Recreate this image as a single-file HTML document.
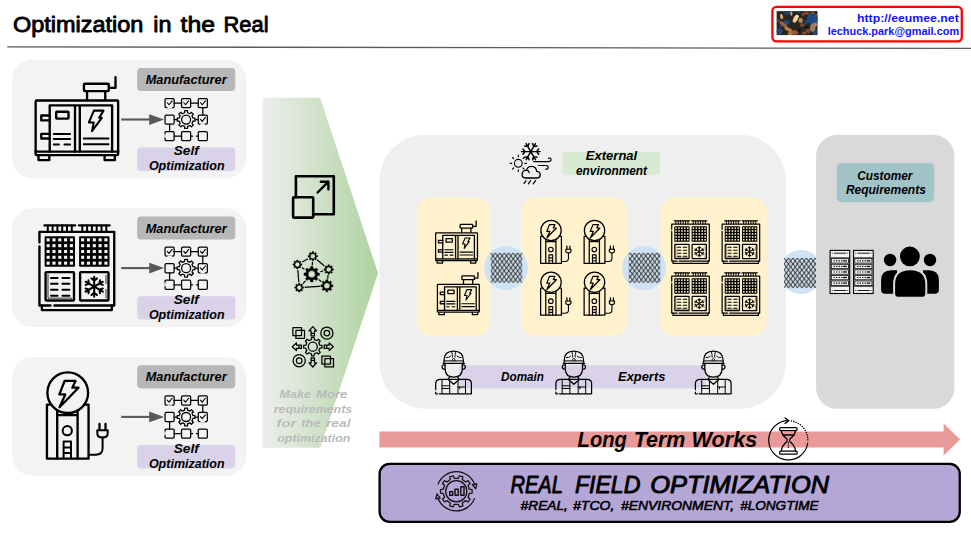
<!DOCTYPE html>
<html><head><meta charset="utf-8"><title>Optimization in the Real</title>
<style>
html,body{margin:0;padding:0;background:#fff;}
body{width:971px;height:534px;overflow:hidden;font-family:"Liberation Sans",sans-serif;}
svg{display:block;}
svg text{font-family:"Liberation Sans",sans-serif;}
</style></head><body>
<svg width="971" height="534" viewBox="0 0 971 534">
<defs>
<linearGradient id="gg" x1="0" y1="0" x2="1" y2="0"><stop offset="0" stop-color="#ececec"/><stop offset="0.25" stop-color="#dfe8da"/><stop offset="1" stop-color="#aed3a0"/></linearGradient>
<linearGradient id="gg2" gradientUnits="userSpaceOnUse" x1="263" y1="0" x2="378" y2="0"><stop offset="0" stop-color="#ececec"/><stop offset="0.25" stop-color="#dfe8da"/><stop offset="1" stop-color="#aed3a0"/></linearGradient>
<pattern id="mesh" patternUnits="userSpaceOnUse" x="490.8" y="252.9" width="4.48" height="5.96"><path d="M0,0 L2.24,2.98 L0,5.96 M4.48,0 L2.24,2.98 L4.48,5.96" fill="none" stroke="#3a3a3a" stroke-width="0.95"/><g fill="#3a3a3a"><ellipse cx="0" cy="0" rx="1.05" ry="0.8"/><ellipse cx="4.48" cy="0" rx="1.05" ry="0.8"/><ellipse cx="2.24" cy="2.98" rx="1.05" ry="0.8"/><ellipse cx="0" cy="5.96" rx="1.05" ry="0.8"/><ellipse cx="4.48" cy="5.96" rx="1.05" ry="0.8"/></g></pattern>
<pattern id="mesh3" patternUnits="userSpaceOnUse" x="784" y="258" width="4.48" height="5.96"><path d="M0,0 L2.24,2.98 L0,5.96 M4.48,0 L2.24,2.98 L4.48,5.96" fill="none" stroke="#3a3a3a" stroke-width="0.95"/><g fill="#3a3a3a"><ellipse cx="0" cy="0" rx="1.05" ry="0.8"/><ellipse cx="4.48" cy="0" rx="1.05" ry="0.8"/><ellipse cx="2.24" cy="2.98" rx="1.05" ry="0.8"/><ellipse cx="0" cy="5.96" rx="1.05" ry="0.8"/><ellipse cx="4.48" cy="5.96" rx="1.05" ry="0.8"/></g></pattern>
<clipPath id="c3"><rect x="785.7" y="200" width="30.4" height="150"/></clipPath><clipPath id="c3b"><rect x="784" y="200" width="32.1" height="150"/></clipPath>
<filter id="bl" x="-10%" y="-10%" width="120%" height="120%"><feGaussianBlur stdDeviation="0.55"/></filter>
<clipPath id="lc"><rect x="776.4" y="11.1" width="41.3" height="24.2"/></clipPath>
</defs>
<path d="M7.2,46.9 L971,48.4" stroke="#5a5a5a" stroke-width="1.35" fill="none"/>
<rect x="772.4" y="6.9" width="189.4" height="34.4" rx="4" fill="#fff" stroke="#ff0000" stroke-width="2.3"/>
<g transform="translate(0,0)">
<rect x="12" y="59.6" width="234.6" height="118.8" rx="20.5" fill="#f3f3f3"/>
<rect x="137.2" y="67.9" width="98.1" height="23.1" rx="3.8" fill="#b7b7b7"/>
<rect x="137.2" y="147.6" width="98.1" height="23.4" rx="3.8" fill="#d9d2e9"/>
</g>
<g transform="translate(0,148.6)">
<rect x="12" y="59.6" width="234.6" height="118.8" rx="20.5" fill="#f3f3f3"/>
<rect x="137.2" y="67.9" width="98.1" height="23.1" rx="3.8" fill="#b7b7b7"/>
<rect x="137.2" y="147.6" width="98.1" height="23.4" rx="3.8" fill="#d9d2e9"/>
</g>
<g transform="translate(0,297.4)">
<rect x="12" y="59.6" width="234.6" height="118.8" rx="20.5" fill="#f3f3f3"/>
<rect x="137.2" y="67.9" width="98.1" height="23.1" rx="3.8" fill="#b7b7b7"/>
<rect x="137.2" y="147.6" width="98.1" height="23.4" rx="3.8" fill="#d9d2e9"/>
</g>
<polygon points="262.6,97.8 320.2,97.8 378,273.2 320.2,447.7 262.6,447.7" fill="url(#gg)"/>
<rect x="379.5" y="134.8" width="406.4" height="274" rx="46" fill="#efefef"/>
<rect x="816.1" y="134.8" width="138.3" height="274" rx="21" fill="#d9d9d9"/>
<rect x="562.2" y="151.7" width="97.8" height="23.1" rx="3.8" fill="#d9ead3"/>
<rect x="417" y="197.6" width="73" height="138.2" rx="14" fill="#fff2cc"/>
<rect x="521" y="197.6" width="106" height="138.2" rx="14" fill="#fff2cc"/>
<rect x="660.2" y="197.6" width="106.5" height="138.2" rx="14" fill="#fff2cc"/>
<rect x="459.5" y="365.3" width="246.5" height="23.0" fill="#d9d2e9"/>
<rect x="836.8" y="163.1" width="97.4" height="39.1" rx="5" fill="#a2c4c9"/>
<polygon points="379.4,431.5 943.6,431.5 943.6,423.4 960.1,439.5 943.6,455.6 943.6,447.5 379.4,447.5" fill="#ea9999"/>
<rect x="379.6" y="463.9" width="580.15" height="57.9" rx="10" fill="#b4a7d6" stroke="#000" stroke-width="2.3"/>
<g transform="translate(34.6,77.1) scale(1)" fill="none" stroke="#000" stroke-linecap="round" stroke-linejoin="round" stroke-width="2.35" stroke-linecap="butt" stroke-linejoin="miter">
<path d="M80.9,0 V10.7 H75.2" stroke-linecap="round"/>
<rect x="49.35" y="6.65" width="24.8" height="7.35" rx="1"/>
<path d="M52.45,14 V22.3 M70.65,14 V22.3"/>
<rect x="1.05" y="23.35" width="82.5" height="54.6" rx="1"/>
<path d="M1.05,74.5 H83.55"/>
<path d="M15.1,74.5 V28.3 H77.5 V74.5 M40.4,28.3 V74.5 M45.2,28.3 V74.5"/>
<path d="M15.1,38.4 H6.7 V43.3 H15.1 M15.1,56.8 H6.7 V61.4 H15.1"/>
<rect x="21.6" y="34.6" width="12.3" height="6.9" rx="0.6"/>
<path d="M19.2,56.8 H35.5 M19.2,61.8 H35.5 M19.2,67.3 H24.3 M29.9,67.3 H35.5 M49.2,61.4 H73.9 M49.2,67.1 H73.9" stroke-width="2.05"/>
<path d="M59.3,33.5 L68.9,33.5 L64.6,40.7 L67.2,40.7 L57.4,54.1 L59.2,45.3 L54.3,45.3 Z" stroke-width="2.05" stroke-linejoin="round"/>
<path d="M3.9,79 V83 H14.7 V79 M70,79 V83 H80.3 V79"/>
</g>
<g transform="translate(38.4,224.3) scale(1)" fill="none" stroke="#000" stroke-linecap="round" stroke-linejoin="round" stroke-width="2.35" stroke-linecap="butt" stroke-linejoin="miter">
<path d="M6.2,1 H36.6" stroke-linecap="round"/>
<path d="M9.4,1.5 V6.5" stroke-width="2.0"/>
<path d="M14.2,1.5 V6.5" stroke-width="2.0"/>
<path d="M19.0,1.5 V6.5" stroke-width="2.0"/>
<path d="M23.799999999999997,1.5 V6.5" stroke-width="2.0"/>
<path d="M28.6,1.5 V6.5" stroke-width="2.0"/>
<path d="M33.4,1.5 V6.5" stroke-width="2.0"/>
<path d="M40.7,1 H71.1" stroke-linecap="round"/>
<path d="M43.900000000000006,1.5 V6.5" stroke-width="2.0"/>
<path d="M48.7,1.5 V6.5" stroke-width="2.0"/>
<path d="M53.50000000000001,1.5 V6.5" stroke-width="2.0"/>
<path d="M58.300000000000004,1.5 V6.5" stroke-width="2.0"/>
<path d="M63.10000000000001,1.5 V6.5" stroke-width="2.0"/>
<path d="M67.9,1.5 V6.5" stroke-width="2.0"/>
<path d="M1.05,18 V7.55 H75.85 V81.2 H16 M12,81.2 H1.05 V22"/>
<path d="M3.5,81.2 V85.8 H73.4 V81.2"/>
<rect x="6.2" y="12" width="30.4" height="30.5" rx="1" fill="#000" stroke="none"/>
<rect x="8.20" y="14.00" width="3.1" height="3.1" fill="#f3f3f3" stroke="none"/>
<rect x="14.02" y="14.00" width="3.1" height="3.1" fill="#f3f3f3" stroke="none"/>
<rect x="19.84" y="14.00" width="3.1" height="3.1" fill="#f3f3f3" stroke="none"/>
<rect x="25.66" y="14.00" width="3.1" height="3.1" fill="#f3f3f3" stroke="none"/>
<rect x="31.48" y="14.00" width="3.1" height="3.1" fill="#f3f3f3" stroke="none"/>
<rect x="8.20" y="19.82" width="3.1" height="3.1" fill="#f3f3f3" stroke="none"/>
<rect x="14.02" y="19.82" width="3.1" height="3.1" fill="#f3f3f3" stroke="none"/>
<rect x="19.84" y="19.82" width="3.1" height="3.1" fill="#f3f3f3" stroke="none"/>
<rect x="25.66" y="19.82" width="3.1" height="3.1" fill="#f3f3f3" stroke="none"/>
<rect x="31.48" y="19.82" width="3.1" height="3.1" fill="#f3f3f3" stroke="none"/>
<rect x="8.20" y="25.64" width="3.1" height="3.1" fill="#f3f3f3" stroke="none"/>
<rect x="14.02" y="25.64" width="3.1" height="3.1" fill="#f3f3f3" stroke="none"/>
<rect x="19.84" y="25.64" width="3.1" height="3.1" fill="#f3f3f3" stroke="none"/>
<rect x="25.66" y="25.64" width="3.1" height="3.1" fill="#f3f3f3" stroke="none"/>
<rect x="31.48" y="25.64" width="3.1" height="3.1" fill="#f3f3f3" stroke="none"/>
<rect x="8.20" y="31.46" width="3.1" height="3.1" fill="#f3f3f3" stroke="none"/>
<rect x="14.02" y="31.46" width="3.1" height="3.1" fill="#f3f3f3" stroke="none"/>
<rect x="19.84" y="31.46" width="3.1" height="3.1" fill="#f3f3f3" stroke="none"/>
<rect x="25.66" y="31.46" width="3.1" height="3.1" fill="#f3f3f3" stroke="none"/>
<rect x="31.48" y="31.46" width="3.1" height="3.1" fill="#f3f3f3" stroke="none"/>
<rect x="8.20" y="37.28" width="3.1" height="3.1" fill="#f3f3f3" stroke="none"/>
<rect x="14.02" y="37.28" width="3.1" height="3.1" fill="#f3f3f3" stroke="none"/>
<rect x="19.84" y="37.28" width="3.1" height="3.1" fill="#f3f3f3" stroke="none"/>
<rect x="25.66" y="37.28" width="3.1" height="3.1" fill="#f3f3f3" stroke="none"/>
<rect x="31.48" y="37.28" width="3.1" height="3.1" fill="#f3f3f3" stroke="none"/>
<rect x="40.7" y="12" width="30.4" height="30.5" rx="1" fill="#000" stroke="none"/>
<rect x="42.70" y="14.00" width="3.1" height="3.1" fill="#f3f3f3" stroke="none"/>
<rect x="48.52" y="14.00" width="3.1" height="3.1" fill="#f3f3f3" stroke="none"/>
<rect x="54.34" y="14.00" width="3.1" height="3.1" fill="#f3f3f3" stroke="none"/>
<rect x="60.16" y="14.00" width="3.1" height="3.1" fill="#f3f3f3" stroke="none"/>
<rect x="65.98" y="14.00" width="3.1" height="3.1" fill="#f3f3f3" stroke="none"/>
<rect x="42.70" y="19.82" width="3.1" height="3.1" fill="#f3f3f3" stroke="none"/>
<rect x="48.52" y="19.82" width="3.1" height="3.1" fill="#f3f3f3" stroke="none"/>
<rect x="54.34" y="19.82" width="3.1" height="3.1" fill="#f3f3f3" stroke="none"/>
<rect x="60.16" y="19.82" width="3.1" height="3.1" fill="#f3f3f3" stroke="none"/>
<rect x="65.98" y="19.82" width="3.1" height="3.1" fill="#f3f3f3" stroke="none"/>
<rect x="42.70" y="25.64" width="3.1" height="3.1" fill="#f3f3f3" stroke="none"/>
<rect x="48.52" y="25.64" width="3.1" height="3.1" fill="#f3f3f3" stroke="none"/>
<rect x="54.34" y="25.64" width="3.1" height="3.1" fill="#f3f3f3" stroke="none"/>
<rect x="60.16" y="25.64" width="3.1" height="3.1" fill="#f3f3f3" stroke="none"/>
<rect x="65.98" y="25.64" width="3.1" height="3.1" fill="#f3f3f3" stroke="none"/>
<rect x="42.70" y="31.46" width="3.1" height="3.1" fill="#f3f3f3" stroke="none"/>
<rect x="48.52" y="31.46" width="3.1" height="3.1" fill="#f3f3f3" stroke="none"/>
<rect x="54.34" y="31.46" width="3.1" height="3.1" fill="#f3f3f3" stroke="none"/>
<rect x="60.16" y="31.46" width="3.1" height="3.1" fill="#f3f3f3" stroke="none"/>
<rect x="65.98" y="31.46" width="3.1" height="3.1" fill="#f3f3f3" stroke="none"/>
<rect x="42.70" y="37.28" width="3.1" height="3.1" fill="#f3f3f3" stroke="none"/>
<rect x="48.52" y="37.28" width="3.1" height="3.1" fill="#f3f3f3" stroke="none"/>
<rect x="54.34" y="37.28" width="3.1" height="3.1" fill="#f3f3f3" stroke="none"/>
<rect x="60.16" y="37.28" width="3.1" height="3.1" fill="#f3f3f3" stroke="none"/>
<rect x="65.98" y="37.28" width="3.1" height="3.1" fill="#f3f3f3" stroke="none"/>
<rect x="7.2" y="47.8" width="28.4" height="28.4" rx="0.8"/>
<path d="M9.6,50.2 V73.8 H33.2" stroke-width="0.8"/>
<path d="M12.6,53.60 H19.2 M24,53.60 H31" stroke-width="2.0" stroke-linecap="round"/>
<path d="M12.6,59.55 H19.2 M24,59.55 H31" stroke-width="2.0" stroke-linecap="round"/>
<path d="M12.6,65.50 H19.2 M24,65.50 H31" stroke-width="2.0" stroke-linecap="round"/>
<path d="M12.6,71.45 H19.2 M24,71.45 H31" stroke-width="2.0" stroke-linecap="round"/>
<rect x="41.7" y="47.8" width="28.4" height="28.4" rx="0.8"/>
<path d="M67.6,51 V59.5 M67.6,65 V73.8" stroke-width="0.8"/>
<path d="M55.80,62.40 L55.80,72.40 M55.80,68.40 L58.56,70.71 M55.80,68.40 L53.04,70.71 M55.80,62.40 L47.14,67.40 M50.60,65.40 L49.98,68.95 M50.60,65.40 L47.22,64.17 M55.80,62.40 L47.14,57.40 M50.60,59.40 L47.22,60.63 M50.60,59.40 L49.98,55.85 M55.80,62.40 L55.80,52.40 M55.80,56.40 L53.04,54.09 M55.80,56.40 L58.56,54.09 M55.80,62.40 L64.46,57.40 M61.00,59.40 L61.62,55.85 M61.00,59.40 L64.38,60.63 M55.80,62.40 L64.46,67.40 M61.00,65.40 L64.38,64.17 M61.00,65.40 L61.62,68.95 " stroke-width="2.0" stroke-linecap="round"/>
</g>
<g transform="translate(45.9,372.3) scale(1)" fill="none" stroke="#000" stroke-linecap="round" stroke-linejoin="round" stroke-width="2.35" stroke-linecap="butt" stroke-linejoin="miter">
<path d="M4.2,32.3 H1.05 V86.3 H42.65 V32.3 H39.5"/>
<path d="M11.3,38 V86.3 M31.7,38 V86.3 M11.3,42.8 H31.7"/>
<circle cx="21.85" cy="20.4" r="20.35"/>
<circle cx="21.4" cy="58.4" r="4.6" stroke-width="2.0"/>
<path d="M17.7,86.3 V69.2 H25.1 V86.3 M17.7,75.2 H25.1 M17.7,80.8 H25.1" stroke-width="2.0"/>
<path d="M18.7,8.7 L29.6,8.7 L26.4,15.4 L32.6,15.4 L13.6,35 L19.4,22.2 L13.4,22.2 Z" stroke-width="2.25" stroke-linejoin="round"/>
<path d="M53.6,51.5 V57.5 M59.6,51.5 V57.5" stroke-width="2.3" stroke-linecap="round"/>
<path d="M51.4,58 H61.8 V61 Q61.8,65.3 56.6,65.3 Q51.4,65.3 51.4,61 Z" stroke-width="2.0" stroke-linejoin="round"/>
<path d="M56.7,65.3 V76 Q56.7,82.4 50,82.4 H43.5" stroke-width="2.0"/>
</g>
<g transform="translate(0,0) scale(1)" fill="none" stroke="#000" stroke-linecap="round" stroke-linejoin="round" stroke-width="1.25" stroke="#111" stroke-linecap="butt">
<path d="M174.15,103.05 H181.54999999999998 M190.65,103.05 H198.25 M202.8,107.6 V115.05 M169.6,124.14999999999999 V131.6 M174.15,136.15 H181.54999999999998 M190.65,136.15 H192.65 M196.45,136.15 H198.25 M174.15,119.6 H176.75 M195.65,119.6 H198.25"/>
<rect x="165.05" y="98.50" width="9.1" height="9.1" rx="1.1"/>
<path d="M167.30,102.75 L169.00,104.75 L172.20,100.85" stroke-width="1.1" stroke-linejoin="miter"/>
<rect x="181.55" y="98.50" width="9.1" height="9.1" rx="1.1"/>
<path d="M183.80,102.75 L185.50,104.75 L188.70,100.85" stroke-width="1.1" stroke-linejoin="miter"/>
<rect x="198.25" y="98.50" width="9.1" height="9.1" rx="1.1"/>
<path d="M200.50,102.75 L202.20,104.75 L205.40,100.85" stroke-width="1.1" stroke-linejoin="miter"/>
<rect x="165.05" y="115.05" width="9.1" height="9.1" rx="1.1"/>
<rect x="198.25" y="115.05" width="9.1" height="9.1" rx="1.1"/>
<path d="M200.50,119.30 L202.20,121.30 L205.40,117.40" stroke-width="1.1" stroke-linejoin="miter"/>
<rect x="165.05" y="131.60" width="9.1" height="9.1" rx="1.1"/>
<rect x="181.55" y="131.60" width="9.1" height="9.1" rx="1.1"/>
<rect x="198.25" y="131.60" width="9.1" height="9.1" rx="1.1"/>
<path d="M168.0,107.6 h3.4 M165.04999999999998,134.75 v2.4 M201.0,124.14999999999999 h3.2" stroke="#f3f3f3" stroke-width="1.6"/>
<path d="M192.94,118.13 L194.99,118.19 L194.99,121.01 L192.94,121.07 L191.98,123.40 L193.38,124.89 L191.39,126.88 L189.90,125.48 L187.57,126.44 L187.51,128.49 L184.69,128.49 L184.63,126.44 L182.30,125.48 L180.81,126.88 L178.82,124.89 L180.22,123.40 L179.26,121.07 L177.21,121.01 L177.21,118.19 L179.26,118.13 L180.22,115.80 L178.82,114.31 L180.81,112.32 L182.30,113.72 L184.63,112.76 L184.69,110.71 L187.51,110.71 L187.57,112.76 L189.90,113.72 L191.39,112.32 L193.38,114.31 L191.98,115.80 Z" stroke-width="1.25" stroke-linejoin="round"/>
<circle cx="186.1" cy="119.6" r="4.5" stroke-width="1.3"/>
</g>
<g transform="translate(0,0)"><rect x="121.2" y="118.45" width="29.5" height="2.1" fill="#595959"/><polygon points="149.2,114.2 164.1,119.5 149.2,124.9" fill="#595959"/></g>
<g transform="translate(0,148.6) scale(1)" fill="none" stroke="#000" stroke-linecap="round" stroke-linejoin="round" stroke-width="1.25" stroke="#111" stroke-linecap="butt">
<path d="M174.15,103.05 H181.54999999999998 M190.65,103.05 H198.25 M202.8,107.6 V115.05 M169.6,124.14999999999999 V131.6 M174.15,136.15 H181.54999999999998 M190.65,136.15 H192.65 M196.45,136.15 H198.25 M174.15,119.6 H176.75 M195.65,119.6 H198.25"/>
<rect x="165.05" y="98.50" width="9.1" height="9.1" rx="1.1"/>
<path d="M167.30,102.75 L169.00,104.75 L172.20,100.85" stroke-width="1.1" stroke-linejoin="miter"/>
<rect x="181.55" y="98.50" width="9.1" height="9.1" rx="1.1"/>
<path d="M183.80,102.75 L185.50,104.75 L188.70,100.85" stroke-width="1.1" stroke-linejoin="miter"/>
<rect x="198.25" y="98.50" width="9.1" height="9.1" rx="1.1"/>
<path d="M200.50,102.75 L202.20,104.75 L205.40,100.85" stroke-width="1.1" stroke-linejoin="miter"/>
<rect x="165.05" y="115.05" width="9.1" height="9.1" rx="1.1"/>
<rect x="198.25" y="115.05" width="9.1" height="9.1" rx="1.1"/>
<path d="M200.50,119.30 L202.20,121.30 L205.40,117.40" stroke-width="1.1" stroke-linejoin="miter"/>
<rect x="165.05" y="131.60" width="9.1" height="9.1" rx="1.1"/>
<rect x="181.55" y="131.60" width="9.1" height="9.1" rx="1.1"/>
<rect x="198.25" y="131.60" width="9.1" height="9.1" rx="1.1"/>
<path d="M168.0,107.6 h3.4 M165.04999999999998,134.75 v2.4 M201.0,124.14999999999999 h3.2" stroke="#f3f3f3" stroke-width="1.6"/>
<path d="M192.94,118.13 L194.99,118.19 L194.99,121.01 L192.94,121.07 L191.98,123.40 L193.38,124.89 L191.39,126.88 L189.90,125.48 L187.57,126.44 L187.51,128.49 L184.69,128.49 L184.63,126.44 L182.30,125.48 L180.81,126.88 L178.82,124.89 L180.22,123.40 L179.26,121.07 L177.21,121.01 L177.21,118.19 L179.26,118.13 L180.22,115.80 L178.82,114.31 L180.81,112.32 L182.30,113.72 L184.63,112.76 L184.69,110.71 L187.51,110.71 L187.57,112.76 L189.90,113.72 L191.39,112.32 L193.38,114.31 L191.98,115.80 Z" stroke-width="1.25" stroke-linejoin="round"/>
<circle cx="186.1" cy="119.6" r="4.5" stroke-width="1.3"/>
</g>
<g transform="translate(0,148.6)"><rect x="121.2" y="118.45" width="29.5" height="2.1" fill="#595959"/><polygon points="149.2,114.2 164.1,119.5 149.2,124.9" fill="#595959"/></g>
<g transform="translate(0,297.4) scale(1)" fill="none" stroke="#000" stroke-linecap="round" stroke-linejoin="round" stroke-width="1.25" stroke="#111" stroke-linecap="butt">
<path d="M174.15,103.05 H181.54999999999998 M190.65,103.05 H198.25 M202.8,107.6 V115.05 M169.6,124.14999999999999 V131.6 M174.15,136.15 H181.54999999999998 M190.65,136.15 H192.65 M196.45,136.15 H198.25 M174.15,119.6 H176.75 M195.65,119.6 H198.25"/>
<rect x="165.05" y="98.50" width="9.1" height="9.1" rx="1.1"/>
<path d="M167.30,102.75 L169.00,104.75 L172.20,100.85" stroke-width="1.1" stroke-linejoin="miter"/>
<rect x="181.55" y="98.50" width="9.1" height="9.1" rx="1.1"/>
<path d="M183.80,102.75 L185.50,104.75 L188.70,100.85" stroke-width="1.1" stroke-linejoin="miter"/>
<rect x="198.25" y="98.50" width="9.1" height="9.1" rx="1.1"/>
<path d="M200.50,102.75 L202.20,104.75 L205.40,100.85" stroke-width="1.1" stroke-linejoin="miter"/>
<rect x="165.05" y="115.05" width="9.1" height="9.1" rx="1.1"/>
<rect x="198.25" y="115.05" width="9.1" height="9.1" rx="1.1"/>
<path d="M200.50,119.30 L202.20,121.30 L205.40,117.40" stroke-width="1.1" stroke-linejoin="miter"/>
<rect x="165.05" y="131.60" width="9.1" height="9.1" rx="1.1"/>
<rect x="181.55" y="131.60" width="9.1" height="9.1" rx="1.1"/>
<rect x="198.25" y="131.60" width="9.1" height="9.1" rx="1.1"/>
<path d="M168.0,107.6 h3.4 M165.04999999999998,134.75 v2.4 M201.0,124.14999999999999 h3.2" stroke="#f3f3f3" stroke-width="1.6"/>
<path d="M192.94,118.13 L194.99,118.19 L194.99,121.01 L192.94,121.07 L191.98,123.40 L193.38,124.89 L191.39,126.88 L189.90,125.48 L187.57,126.44 L187.51,128.49 L184.69,128.49 L184.63,126.44 L182.30,125.48 L180.81,126.88 L178.82,124.89 L180.22,123.40 L179.26,121.07 L177.21,121.01 L177.21,118.19 L179.26,118.13 L180.22,115.80 L178.82,114.31 L180.81,112.32 L182.30,113.72 L184.63,112.76 L184.69,110.71 L187.51,110.71 L187.57,112.76 L189.90,113.72 L191.39,112.32 L193.38,114.31 L191.98,115.80 Z" stroke-width="1.25" stroke-linejoin="round"/>
<circle cx="186.1" cy="119.6" r="4.5" stroke-width="1.3"/>
</g>
<g transform="translate(0,297.4)"><rect x="121.2" y="118.45" width="29.5" height="2.1" fill="#595959"/><polygon points="149.2,114.2 164.1,119.5 149.2,124.9" fill="#595959"/></g>
<g transform="translate(0.4,0.2)" fill="none" stroke="#000" stroke-width="2.6" stroke-linejoin="round" stroke-linecap="round"><path d="M295.5,197 V176 H333.4 V214 H312.8"/><rect x="292.7" y="197.1" width="20.1" height="20.3" rx="0.8"/><path d="M317.2,192.3 L327.8,181.7 M320.4,181.5 H328 V189.1" stroke-width="2.4"/></g>
<path d="M312.8,256.2 L297.4,264.5 M312.8,256.2 L328.7,269.5 M297.4,264.5 L299.2,287.6 M299.2,287.6 L326.9,285.8 M328.7,269.5 L326.9,285.8 M311.7,274.2 L312.8,256.2 M311.7,274.2 L297.4,264.5 M311.7,274.2 L328.7,269.5 M311.7,274.2 L299.2,287.6 M311.7,274.2 L326.9,285.8 " stroke="#000" stroke-width="1.2" fill="none"/>
<circle cx="312.8" cy="256.2" r="5.7" fill="url(#gg2)"/>
<path d="M316.29,255.43 L317.45,255.49 L317.45,256.91 L316.29,256.97 L315.81,258.13 L316.59,258.98 L315.58,259.99 L314.73,259.21 L313.57,259.69 L313.51,260.85 L312.09,260.85 L312.03,259.69 L310.87,259.21 L310.02,259.99 L309.01,258.98 L309.79,258.13 L309.31,256.97 L308.15,256.91 L308.15,255.49 L309.31,255.43 L309.79,254.27 L309.01,253.42 L310.02,252.41 L310.87,253.19 L312.03,252.71 L312.09,251.55 L313.51,251.55 L313.57,252.71 L314.73,253.19 L315.58,252.41 L316.59,253.42 L315.81,254.27 Z M315.30,256.20 A2.5,2.5 0 1,0 310.30,256.20 A2.5,2.5 0 1,0 315.30,256.20 Z" fill="#000" fill-rule="evenodd" stroke="#000" stroke-width="0.5" stroke-linejoin="round"/>
<circle cx="297.4" cy="264.5" r="5.5" fill="url(#gg2)"/>
<path d="M300.74,263.77 L301.85,263.82 L301.85,265.18 L300.74,265.23 L300.28,266.34 L301.02,267.17 L300.07,268.12 L299.24,267.38 L298.13,267.84 L298.08,268.95 L296.72,268.95 L296.67,267.84 L295.56,267.38 L294.73,268.12 L293.78,267.17 L294.52,266.34 L294.06,265.23 L292.95,265.18 L292.95,263.82 L294.06,263.77 L294.52,262.66 L293.78,261.83 L294.73,260.88 L295.56,261.62 L296.67,261.16 L296.72,260.05 L298.08,260.05 L298.13,261.16 L299.24,261.62 L300.07,260.88 L301.02,261.83 L300.28,262.66 Z M299.80,264.50 A2.4,2.4 0 1,0 295.00,264.50 A2.4,2.4 0 1,0 299.80,264.50 Z" fill="#000" fill-rule="evenodd" stroke="#000" stroke-width="0.5" stroke-linejoin="round"/>
<circle cx="328.7" cy="269.5" r="5.7" fill="url(#gg2)"/>
<path d="M332.19,268.73 L333.35,268.79 L333.35,270.21 L332.19,270.27 L331.71,271.43 L332.49,272.28 L331.48,273.29 L330.63,272.51 L329.47,272.99 L329.41,274.15 L327.99,274.15 L327.93,272.99 L326.77,272.51 L325.92,273.29 L324.91,272.28 L325.69,271.43 L325.21,270.27 L324.05,270.21 L324.05,268.79 L325.21,268.73 L325.69,267.57 L324.91,266.72 L325.92,265.71 L326.77,266.49 L327.93,266.01 L327.99,264.85 L329.41,264.85 L329.47,266.01 L330.63,266.49 L331.48,265.71 L332.49,266.72 L331.71,267.57 Z M331.20,269.50 A2.5,2.5 0 1,0 326.20,269.50 A2.5,2.5 0 1,0 331.20,269.50 Z" fill="#000" fill-rule="evenodd" stroke="#000" stroke-width="0.5" stroke-linejoin="round"/>
<circle cx="299.2" cy="287.6" r="5.5" fill="url(#gg2)"/>
<path d="M302.54,286.87 L303.65,286.92 L303.65,288.28 L302.54,288.33 L302.08,289.44 L302.82,290.27 L301.87,291.22 L301.04,290.48 L299.93,290.94 L299.88,292.05 L298.52,292.05 L298.47,290.94 L297.36,290.48 L296.53,291.22 L295.58,290.27 L296.32,289.44 L295.86,288.33 L294.75,288.28 L294.75,286.92 L295.86,286.87 L296.32,285.76 L295.58,284.93 L296.53,283.98 L297.36,284.72 L298.47,284.26 L298.52,283.15 L299.88,283.15 L299.93,284.26 L301.04,284.72 L301.87,283.98 L302.82,284.93 L302.08,285.76 Z M301.60,287.60 A2.4,2.4 0 1,0 296.80,287.60 A2.4,2.4 0 1,0 301.60,287.60 Z" fill="#000" fill-rule="evenodd" stroke="#000" stroke-width="0.5" stroke-linejoin="round"/>
<circle cx="326.9" cy="285.8" r="7.1" fill="url(#gg2)"/>
<path d="M331.43,284.81 L332.93,284.88 L332.93,286.72 L331.43,286.79 L330.80,288.30 L331.81,289.41 L330.51,290.71 L329.40,289.70 L327.89,290.33 L327.82,291.83 L325.98,291.83 L325.91,290.33 L324.40,289.70 L323.29,290.71 L321.99,289.41 L323.00,288.30 L322.37,286.79 L320.87,286.72 L320.87,284.88 L322.37,284.81 L323.00,283.30 L321.99,282.19 L323.29,280.89 L324.40,281.90 L325.91,281.27 L325.98,279.77 L327.82,279.77 L327.89,281.27 L329.40,281.90 L330.51,280.89 L331.81,282.19 L330.80,283.30 Z M329.90,285.80 A3.0,3.0 0 1,0 323.90,285.80 A3.0,3.0 0 1,0 329.90,285.80 Z" fill="#000" fill-rule="evenodd" stroke="#000" stroke-width="0.5" stroke-linejoin="round"/>
<circle cx="311.7" cy="274.2" r="9.0" fill="url(#gg2)"/>
<path d="M317.56,272.91 L319.41,273.03 L319.41,275.37 L317.56,275.49 L316.75,277.43 L317.98,278.82 L316.32,280.48 L314.93,279.25 L312.99,280.06 L312.87,281.91 L310.53,281.91 L310.41,280.06 L308.47,279.25 L307.08,280.48 L305.42,278.82 L306.65,277.43 L305.84,275.49 L303.99,275.37 L303.99,273.03 L305.84,272.91 L306.65,270.97 L305.42,269.58 L307.08,267.92 L308.47,269.15 L310.41,268.34 L310.53,266.49 L312.87,266.49 L312.99,268.34 L314.93,269.15 L316.32,267.92 L317.98,269.58 L316.75,270.97 Z M315.30,274.20 A3.6,3.6 0 1,0 308.10,274.20 A3.6,3.6 0 1,0 315.30,274.20 Z" fill="#000" fill-rule="evenodd" stroke="#000" stroke-width="0.5" stroke-linejoin="round"/>
<g fill="none" stroke="#000" stroke-width="1.25" stroke-linejoin="round">
<path d="M319.85,345.24 L322.02,345.45 L322.02,347.95 L319.85,348.16 L318.82,350.65 L320.20,352.33 L318.43,354.10 L316.75,352.72 L314.26,353.75 L314.05,355.92 L311.55,355.92 L311.34,353.75 L308.85,352.72 L307.17,354.10 L305.40,352.33 L306.78,350.65 L305.75,348.16 L303.58,347.95 L303.58,345.45 L305.75,345.24 L306.78,342.75 L305.40,341.07 L307.17,339.30 L308.85,340.68 L311.34,339.65 L311.55,337.48 L314.05,337.48 L314.26,339.65 L316.75,340.68 L318.43,339.30 L320.20,341.07 L318.82,342.75 Z"/>
<circle cx="312.8" cy="346.7" r="4.5"/>
<rect x="292.9" y="327.6" width="8.6" height="8.0"/><rect x="295.9" y="330.4" width="8.6" height="8.0"/>
<rect x="321.9" y="356.0" width="8.6" height="8.0"/><rect x="324.8" y="358.7" width="8.7" height="8.2"/>
<circle cx="326.9" cy="333.1" r="6.1"/><circle cx="326.9" cy="333.1" r="2.8"/>
<circle cx="299.2" cy="360.7" r="6.1"/><circle cx="299.2" cy="360.7" r="2.8"/>
<path transform="translate(312.8,331.4) rotate(0)" d="M0,-4.7 L3.8,-0.6 H1.7 V4.4 H-1.7 V-0.6 H-3.8 Z M-1.7,1.9 H1.7"/>
<path transform="translate(312.8,362.3) rotate(180)" d="M0,-4.7 L3.8,-0.6 H1.7 V4.4 H-1.7 V-0.6 H-3.8 Z M-1.7,1.9 H1.7"/>
<path transform="translate(297.0,346.7) rotate(270)" d="M0,-4.7 L3.8,-0.6 H1.7 V4.4 H-1.7 V-0.6 H-3.8 Z M-1.7,1.9 H1.7"/>
<path transform="translate(328.6,346.7) rotate(90)" d="M0,-4.7 L3.8,-0.6 H1.7 V4.4 H-1.7 V-0.6 H-3.8 Z M-1.7,1.9 H1.7"/>
</g>
<g transform="translate(435.1,221.0) scale(0.507)" fill="none" stroke="#000" stroke-linecap="round" stroke-linejoin="round" stroke-width="2.55" stroke-linecap="butt" stroke-linejoin="miter">
<path d="M80.9,0 V10.7 H75.2" stroke-linecap="round"/>
<rect x="49.35" y="6.65" width="24.8" height="7.35" rx="1"/>
<path d="M52.45,14 V22.3 M70.65,14 V22.3"/>
<rect x="1.05" y="23.35" width="82.5" height="54.6" rx="1"/>
<path d="M1.05,74.5 H83.55"/>
<path d="M15.1,74.5 V28.3 H77.5 V74.5 M40.4,28.3 V74.5 M45.2,28.3 V74.5"/>
<path d="M15.1,38.4 H6.7 V43.3 H15.1 M15.1,56.8 H6.7 V61.4 H15.1"/>
<rect x="21.6" y="34.6" width="12.3" height="6.9" rx="0.6"/>
<path d="M19.2,56.8 H35.5 M19.2,61.8 H35.5 M19.2,67.3 H24.3 M29.9,67.3 H35.5 M49.2,61.4 H73.9 M49.2,67.1 H73.9" stroke-width="2.2"/>
<path d="M59.3,33.5 L68.9,33.5 L64.6,40.7 L67.2,40.7 L57.4,54.1 L59.2,45.3 L54.3,45.3 Z" stroke-width="2.2" stroke-linejoin="round"/>
<path d="M3.9,79 V83 H14.7 V79 M70,79 V83 H80.3 V79"/>
</g>
<g transform="translate(436.9,272.6) scale(0.507)" fill="none" stroke="#000" stroke-linecap="round" stroke-linejoin="round" stroke-width="2.55" stroke-linecap="butt" stroke-linejoin="miter">
<path d="M80.9,0 V10.7 H75.2" stroke-linecap="round"/>
<rect x="49.35" y="6.65" width="24.8" height="7.35" rx="1"/>
<path d="M52.45,14 V22.3 M70.65,14 V22.3"/>
<rect x="1.05" y="23.35" width="82.5" height="54.6" rx="1"/>
<path d="M1.05,74.5 H83.55"/>
<path d="M15.1,74.5 V28.3 H77.5 V74.5 M40.4,28.3 V74.5 M45.2,28.3 V74.5"/>
<path d="M15.1,38.4 H6.7 V43.3 H15.1 M15.1,56.8 H6.7 V61.4 H15.1"/>
<rect x="21.6" y="34.6" width="12.3" height="6.9" rx="0.6"/>
<path d="M19.2,56.8 H35.5 M19.2,61.8 H35.5 M19.2,67.3 H24.3 M29.9,67.3 H35.5 M49.2,61.4 H73.9 M49.2,67.1 H73.9" stroke-width="2.2"/>
<path d="M59.3,33.5 L68.9,33.5 L64.6,40.7 L67.2,40.7 L57.4,54.1 L59.2,45.3 L54.3,45.3 Z" stroke-width="2.2" stroke-linejoin="round"/>
<path d="M3.9,79 V83 H14.7 V79 M70,79 V83 H80.3 V79"/>
</g>
<g transform="translate(540.1,220.3) scale(0.5)" fill="none" stroke="#000" stroke-linecap="round" stroke-linejoin="round" stroke-width="2.5" stroke-linecap="butt" stroke-linejoin="miter">
<path d="M4.2,32.3 H1.05 V86.3 H42.65 V32.3 H39.5"/>
<path d="M11.3,38 V86.3 M31.7,38 V86.3 M11.3,42.8 H31.7"/>
<circle cx="21.85" cy="20.4" r="20.35"/>
<circle cx="21.4" cy="58.4" r="4.6" stroke-width="2.2"/>
<path d="M17.7,86.3 V69.2 H25.1 V86.3 M17.7,75.2 H25.1 M17.7,80.8 H25.1" stroke-width="2.2"/>
<path d="M18.7,8.7 L29.6,8.7 L26.4,15.4 L32.6,15.4 L13.6,35 L19.4,22.2 L13.4,22.2 Z" stroke-width="2.45" stroke-linejoin="round"/>
<path d="M53.6,51.5 V57.5 M59.6,51.5 V57.5" stroke-width="2.5" stroke-linecap="round"/>
<path d="M51.4,58 H61.8 V61 Q61.8,65.3 56.6,65.3 Q51.4,65.3 51.4,61 Z" stroke-width="2.2" stroke-linejoin="round"/>
<path d="M56.7,65.3 V76 Q56.7,82.4 50,82.4 H43.5" stroke-width="2.2"/>
</g>
<g transform="translate(583.6,220.3) scale(0.5)" fill="none" stroke="#000" stroke-linecap="round" stroke-linejoin="round" stroke-width="2.5" stroke-linecap="butt" stroke-linejoin="miter">
<path d="M4.2,32.3 H1.05 V86.3 H42.65 V32.3 H39.5"/>
<path d="M11.3,38 V86.3 M31.7,38 V86.3 M11.3,42.8 H31.7"/>
<circle cx="21.85" cy="20.4" r="20.35"/>
<circle cx="21.4" cy="58.4" r="4.6" stroke-width="2.2"/>
<path d="M17.7,86.3 V69.2 H25.1 V86.3 M17.7,75.2 H25.1 M17.7,80.8 H25.1" stroke-width="2.2"/>
<path d="M18.7,8.7 L29.6,8.7 L26.4,15.4 L32.6,15.4 L13.6,35 L19.4,22.2 L13.4,22.2 Z" stroke-width="2.45" stroke-linejoin="round"/>
<path d="M53.6,51.5 V57.5 M59.6,51.5 V57.5" stroke-width="2.5" stroke-linecap="round"/>
<path d="M51.4,58 H61.8 V61 Q61.8,65.3 56.6,65.3 Q51.4,65.3 51.4,61 Z" stroke-width="2.2" stroke-linejoin="round"/>
<path d="M56.7,65.3 V76 Q56.7,82.4 50,82.4 H43.5" stroke-width="2.2"/>
</g>
<g transform="translate(540.1,272.0) scale(0.5)" fill="none" stroke="#000" stroke-linecap="round" stroke-linejoin="round" stroke-width="2.5" stroke-linecap="butt" stroke-linejoin="miter">
<path d="M4.2,32.3 H1.05 V86.3 H42.65 V32.3 H39.5"/>
<path d="M11.3,38 V86.3 M31.7,38 V86.3 M11.3,42.8 H31.7"/>
<circle cx="21.85" cy="20.4" r="20.35"/>
<circle cx="21.4" cy="58.4" r="4.6" stroke-width="2.2"/>
<path d="M17.7,86.3 V69.2 H25.1 V86.3 M17.7,75.2 H25.1 M17.7,80.8 H25.1" stroke-width="2.2"/>
<path d="M18.7,8.7 L29.6,8.7 L26.4,15.4 L32.6,15.4 L13.6,35 L19.4,22.2 L13.4,22.2 Z" stroke-width="2.45" stroke-linejoin="round"/>
<path d="M53.6,51.5 V57.5 M59.6,51.5 V57.5" stroke-width="2.5" stroke-linecap="round"/>
<path d="M51.4,58 H61.8 V61 Q61.8,65.3 56.6,65.3 Q51.4,65.3 51.4,61 Z" stroke-width="2.2" stroke-linejoin="round"/>
<path d="M56.7,65.3 V76 Q56.7,82.4 50,82.4 H43.5" stroke-width="2.2"/>
</g>
<g transform="translate(583.6,272.0) scale(0.5)" fill="none" stroke="#000" stroke-linecap="round" stroke-linejoin="round" stroke-width="2.5" stroke-linecap="butt" stroke-linejoin="miter">
<path d="M4.2,32.3 H1.05 V86.3 H42.65 V32.3 H39.5"/>
<path d="M11.3,38 V86.3 M31.7,38 V86.3 M11.3,42.8 H31.7"/>
<circle cx="21.85" cy="20.4" r="20.35"/>
<circle cx="21.4" cy="58.4" r="4.6" stroke-width="2.2"/>
<path d="M17.7,86.3 V69.2 H25.1 V86.3 M17.7,75.2 H25.1 M17.7,80.8 H25.1" stroke-width="2.2"/>
<path d="M18.7,8.7 L29.6,8.7 L26.4,15.4 L32.6,15.4 L13.6,35 L19.4,22.2 L13.4,22.2 Z" stroke-width="2.45" stroke-linejoin="round"/>
<path d="M53.6,51.5 V57.5 M59.6,51.5 V57.5" stroke-width="2.5" stroke-linecap="round"/>
<path d="M51.4,58 H61.8 V61 Q61.8,65.3 56.6,65.3 Q51.4,65.3 51.4,61 Z" stroke-width="2.2" stroke-linejoin="round"/>
<path d="M56.7,65.3 V76 Q56.7,82.4 50,82.4 H43.5" stroke-width="2.2"/>
</g>
<g transform="translate(671.2,220.3) scale(0.502)" fill="none" stroke="#000" stroke-linecap="round" stroke-linejoin="round" stroke-width="2.4" stroke-linecap="butt" stroke-linejoin="miter">
<path d="M6.2,1 H36.6" stroke-linecap="round"/>
<path d="M9.4,1.5 V6.5" stroke-width="2.0"/>
<path d="M14.2,1.5 V6.5" stroke-width="2.0"/>
<path d="M19.0,1.5 V6.5" stroke-width="2.0"/>
<path d="M23.799999999999997,1.5 V6.5" stroke-width="2.0"/>
<path d="M28.6,1.5 V6.5" stroke-width="2.0"/>
<path d="M33.4,1.5 V6.5" stroke-width="2.0"/>
<path d="M40.7,1 H71.1" stroke-linecap="round"/>
<path d="M43.900000000000006,1.5 V6.5" stroke-width="2.0"/>
<path d="M48.7,1.5 V6.5" stroke-width="2.0"/>
<path d="M53.50000000000001,1.5 V6.5" stroke-width="2.0"/>
<path d="M58.300000000000004,1.5 V6.5" stroke-width="2.0"/>
<path d="M63.10000000000001,1.5 V6.5" stroke-width="2.0"/>
<path d="M67.9,1.5 V6.5" stroke-width="2.0"/>
<path d="M1.05,18 V7.55 H75.85 V81.2 H16 M12,81.2 H1.05 V22"/>
<path d="M3.5,81.2 V85.8 H73.4 V81.2"/>
<rect x="6.2" y="12" width="30.4" height="30.5" rx="1" fill="#000" stroke="none"/>
<rect x="8.20" y="14.00" width="3.1" height="3.1" fill="#fff2cc" stroke="none"/>
<rect x="14.02" y="14.00" width="3.1" height="3.1" fill="#fff2cc" stroke="none"/>
<rect x="19.84" y="14.00" width="3.1" height="3.1" fill="#fff2cc" stroke="none"/>
<rect x="25.66" y="14.00" width="3.1" height="3.1" fill="#fff2cc" stroke="none"/>
<rect x="31.48" y="14.00" width="3.1" height="3.1" fill="#fff2cc" stroke="none"/>
<rect x="8.20" y="19.82" width="3.1" height="3.1" fill="#fff2cc" stroke="none"/>
<rect x="14.02" y="19.82" width="3.1" height="3.1" fill="#fff2cc" stroke="none"/>
<rect x="19.84" y="19.82" width="3.1" height="3.1" fill="#fff2cc" stroke="none"/>
<rect x="25.66" y="19.82" width="3.1" height="3.1" fill="#fff2cc" stroke="none"/>
<rect x="31.48" y="19.82" width="3.1" height="3.1" fill="#fff2cc" stroke="none"/>
<rect x="8.20" y="25.64" width="3.1" height="3.1" fill="#fff2cc" stroke="none"/>
<rect x="14.02" y="25.64" width="3.1" height="3.1" fill="#fff2cc" stroke="none"/>
<rect x="19.84" y="25.64" width="3.1" height="3.1" fill="#fff2cc" stroke="none"/>
<rect x="25.66" y="25.64" width="3.1" height="3.1" fill="#fff2cc" stroke="none"/>
<rect x="31.48" y="25.64" width="3.1" height="3.1" fill="#fff2cc" stroke="none"/>
<rect x="8.20" y="31.46" width="3.1" height="3.1" fill="#fff2cc" stroke="none"/>
<rect x="14.02" y="31.46" width="3.1" height="3.1" fill="#fff2cc" stroke="none"/>
<rect x="19.84" y="31.46" width="3.1" height="3.1" fill="#fff2cc" stroke="none"/>
<rect x="25.66" y="31.46" width="3.1" height="3.1" fill="#fff2cc" stroke="none"/>
<rect x="31.48" y="31.46" width="3.1" height="3.1" fill="#fff2cc" stroke="none"/>
<rect x="8.20" y="37.28" width="3.1" height="3.1" fill="#fff2cc" stroke="none"/>
<rect x="14.02" y="37.28" width="3.1" height="3.1" fill="#fff2cc" stroke="none"/>
<rect x="19.84" y="37.28" width="3.1" height="3.1" fill="#fff2cc" stroke="none"/>
<rect x="25.66" y="37.28" width="3.1" height="3.1" fill="#fff2cc" stroke="none"/>
<rect x="31.48" y="37.28" width="3.1" height="3.1" fill="#fff2cc" stroke="none"/>
<rect x="40.7" y="12" width="30.4" height="30.5" rx="1" fill="#000" stroke="none"/>
<rect x="42.70" y="14.00" width="3.1" height="3.1" fill="#fff2cc" stroke="none"/>
<rect x="48.52" y="14.00" width="3.1" height="3.1" fill="#fff2cc" stroke="none"/>
<rect x="54.34" y="14.00" width="3.1" height="3.1" fill="#fff2cc" stroke="none"/>
<rect x="60.16" y="14.00" width="3.1" height="3.1" fill="#fff2cc" stroke="none"/>
<rect x="65.98" y="14.00" width="3.1" height="3.1" fill="#fff2cc" stroke="none"/>
<rect x="42.70" y="19.82" width="3.1" height="3.1" fill="#fff2cc" stroke="none"/>
<rect x="48.52" y="19.82" width="3.1" height="3.1" fill="#fff2cc" stroke="none"/>
<rect x="54.34" y="19.82" width="3.1" height="3.1" fill="#fff2cc" stroke="none"/>
<rect x="60.16" y="19.82" width="3.1" height="3.1" fill="#fff2cc" stroke="none"/>
<rect x="65.98" y="19.82" width="3.1" height="3.1" fill="#fff2cc" stroke="none"/>
<rect x="42.70" y="25.64" width="3.1" height="3.1" fill="#fff2cc" stroke="none"/>
<rect x="48.52" y="25.64" width="3.1" height="3.1" fill="#fff2cc" stroke="none"/>
<rect x="54.34" y="25.64" width="3.1" height="3.1" fill="#fff2cc" stroke="none"/>
<rect x="60.16" y="25.64" width="3.1" height="3.1" fill="#fff2cc" stroke="none"/>
<rect x="65.98" y="25.64" width="3.1" height="3.1" fill="#fff2cc" stroke="none"/>
<rect x="42.70" y="31.46" width="3.1" height="3.1" fill="#fff2cc" stroke="none"/>
<rect x="48.52" y="31.46" width="3.1" height="3.1" fill="#fff2cc" stroke="none"/>
<rect x="54.34" y="31.46" width="3.1" height="3.1" fill="#fff2cc" stroke="none"/>
<rect x="60.16" y="31.46" width="3.1" height="3.1" fill="#fff2cc" stroke="none"/>
<rect x="65.98" y="31.46" width="3.1" height="3.1" fill="#fff2cc" stroke="none"/>
<rect x="42.70" y="37.28" width="3.1" height="3.1" fill="#fff2cc" stroke="none"/>
<rect x="48.52" y="37.28" width="3.1" height="3.1" fill="#fff2cc" stroke="none"/>
<rect x="54.34" y="37.28" width="3.1" height="3.1" fill="#fff2cc" stroke="none"/>
<rect x="60.16" y="37.28" width="3.1" height="3.1" fill="#fff2cc" stroke="none"/>
<rect x="65.98" y="37.28" width="3.1" height="3.1" fill="#fff2cc" stroke="none"/>
<rect x="7.2" y="47.8" width="28.4" height="28.4" rx="0.8"/>
<path d="M9.6,50.2 V73.8 H33.2" stroke-width="0.8"/>
<path d="M12.6,53.60 H19.2 M24,53.60 H31" stroke-width="2.0" stroke-linecap="round"/>
<path d="M12.6,59.55 H19.2 M24,59.55 H31" stroke-width="2.0" stroke-linecap="round"/>
<path d="M12.6,65.50 H19.2 M24,65.50 H31" stroke-width="2.0" stroke-linecap="round"/>
<path d="M12.6,71.45 H19.2 M24,71.45 H31" stroke-width="2.0" stroke-linecap="round"/>
<rect x="41.7" y="47.8" width="28.4" height="28.4" rx="0.8"/>
<path d="M67.6,51 V59.5 M67.6,65 V73.8" stroke-width="0.8"/>
<path d="M55.80,62.40 L55.80,72.40 M55.80,68.40 L58.56,70.71 M55.80,68.40 L53.04,70.71 M55.80,62.40 L47.14,67.40 M50.60,65.40 L49.98,68.95 M50.60,65.40 L47.22,64.17 M55.80,62.40 L47.14,57.40 M50.60,59.40 L47.22,60.63 M50.60,59.40 L49.98,55.85 M55.80,62.40 L55.80,52.40 M55.80,56.40 L53.04,54.09 M55.80,56.40 L58.56,54.09 M55.80,62.40 L64.46,57.40 M61.00,59.40 L61.62,55.85 M61.00,59.40 L64.38,60.63 M55.80,62.40 L64.46,67.40 M61.00,65.40 L64.38,64.17 M61.00,65.40 L61.62,68.95 " stroke-width="2.0" stroke-linecap="round"/>
</g>
<g transform="translate(721.6,220.3) scale(0.502)" fill="none" stroke="#000" stroke-linecap="round" stroke-linejoin="round" stroke-width="2.4" stroke-linecap="butt" stroke-linejoin="miter">
<path d="M6.2,1 H36.6" stroke-linecap="round"/>
<path d="M9.4,1.5 V6.5" stroke-width="2.0"/>
<path d="M14.2,1.5 V6.5" stroke-width="2.0"/>
<path d="M19.0,1.5 V6.5" stroke-width="2.0"/>
<path d="M23.799999999999997,1.5 V6.5" stroke-width="2.0"/>
<path d="M28.6,1.5 V6.5" stroke-width="2.0"/>
<path d="M33.4,1.5 V6.5" stroke-width="2.0"/>
<path d="M40.7,1 H71.1" stroke-linecap="round"/>
<path d="M43.900000000000006,1.5 V6.5" stroke-width="2.0"/>
<path d="M48.7,1.5 V6.5" stroke-width="2.0"/>
<path d="M53.50000000000001,1.5 V6.5" stroke-width="2.0"/>
<path d="M58.300000000000004,1.5 V6.5" stroke-width="2.0"/>
<path d="M63.10000000000001,1.5 V6.5" stroke-width="2.0"/>
<path d="M67.9,1.5 V6.5" stroke-width="2.0"/>
<path d="M1.05,18 V7.55 H75.85 V81.2 H16 M12,81.2 H1.05 V22"/>
<path d="M3.5,81.2 V85.8 H73.4 V81.2"/>
<rect x="6.2" y="12" width="30.4" height="30.5" rx="1" fill="#000" stroke="none"/>
<rect x="8.20" y="14.00" width="3.1" height="3.1" fill="#fff2cc" stroke="none"/>
<rect x="14.02" y="14.00" width="3.1" height="3.1" fill="#fff2cc" stroke="none"/>
<rect x="19.84" y="14.00" width="3.1" height="3.1" fill="#fff2cc" stroke="none"/>
<rect x="25.66" y="14.00" width="3.1" height="3.1" fill="#fff2cc" stroke="none"/>
<rect x="31.48" y="14.00" width="3.1" height="3.1" fill="#fff2cc" stroke="none"/>
<rect x="8.20" y="19.82" width="3.1" height="3.1" fill="#fff2cc" stroke="none"/>
<rect x="14.02" y="19.82" width="3.1" height="3.1" fill="#fff2cc" stroke="none"/>
<rect x="19.84" y="19.82" width="3.1" height="3.1" fill="#fff2cc" stroke="none"/>
<rect x="25.66" y="19.82" width="3.1" height="3.1" fill="#fff2cc" stroke="none"/>
<rect x="31.48" y="19.82" width="3.1" height="3.1" fill="#fff2cc" stroke="none"/>
<rect x="8.20" y="25.64" width="3.1" height="3.1" fill="#fff2cc" stroke="none"/>
<rect x="14.02" y="25.64" width="3.1" height="3.1" fill="#fff2cc" stroke="none"/>
<rect x="19.84" y="25.64" width="3.1" height="3.1" fill="#fff2cc" stroke="none"/>
<rect x="25.66" y="25.64" width="3.1" height="3.1" fill="#fff2cc" stroke="none"/>
<rect x="31.48" y="25.64" width="3.1" height="3.1" fill="#fff2cc" stroke="none"/>
<rect x="8.20" y="31.46" width="3.1" height="3.1" fill="#fff2cc" stroke="none"/>
<rect x="14.02" y="31.46" width="3.1" height="3.1" fill="#fff2cc" stroke="none"/>
<rect x="19.84" y="31.46" width="3.1" height="3.1" fill="#fff2cc" stroke="none"/>
<rect x="25.66" y="31.46" width="3.1" height="3.1" fill="#fff2cc" stroke="none"/>
<rect x="31.48" y="31.46" width="3.1" height="3.1" fill="#fff2cc" stroke="none"/>
<rect x="8.20" y="37.28" width="3.1" height="3.1" fill="#fff2cc" stroke="none"/>
<rect x="14.02" y="37.28" width="3.1" height="3.1" fill="#fff2cc" stroke="none"/>
<rect x="19.84" y="37.28" width="3.1" height="3.1" fill="#fff2cc" stroke="none"/>
<rect x="25.66" y="37.28" width="3.1" height="3.1" fill="#fff2cc" stroke="none"/>
<rect x="31.48" y="37.28" width="3.1" height="3.1" fill="#fff2cc" stroke="none"/>
<rect x="40.7" y="12" width="30.4" height="30.5" rx="1" fill="#000" stroke="none"/>
<rect x="42.70" y="14.00" width="3.1" height="3.1" fill="#fff2cc" stroke="none"/>
<rect x="48.52" y="14.00" width="3.1" height="3.1" fill="#fff2cc" stroke="none"/>
<rect x="54.34" y="14.00" width="3.1" height="3.1" fill="#fff2cc" stroke="none"/>
<rect x="60.16" y="14.00" width="3.1" height="3.1" fill="#fff2cc" stroke="none"/>
<rect x="65.98" y="14.00" width="3.1" height="3.1" fill="#fff2cc" stroke="none"/>
<rect x="42.70" y="19.82" width="3.1" height="3.1" fill="#fff2cc" stroke="none"/>
<rect x="48.52" y="19.82" width="3.1" height="3.1" fill="#fff2cc" stroke="none"/>
<rect x="54.34" y="19.82" width="3.1" height="3.1" fill="#fff2cc" stroke="none"/>
<rect x="60.16" y="19.82" width="3.1" height="3.1" fill="#fff2cc" stroke="none"/>
<rect x="65.98" y="19.82" width="3.1" height="3.1" fill="#fff2cc" stroke="none"/>
<rect x="42.70" y="25.64" width="3.1" height="3.1" fill="#fff2cc" stroke="none"/>
<rect x="48.52" y="25.64" width="3.1" height="3.1" fill="#fff2cc" stroke="none"/>
<rect x="54.34" y="25.64" width="3.1" height="3.1" fill="#fff2cc" stroke="none"/>
<rect x="60.16" y="25.64" width="3.1" height="3.1" fill="#fff2cc" stroke="none"/>
<rect x="65.98" y="25.64" width="3.1" height="3.1" fill="#fff2cc" stroke="none"/>
<rect x="42.70" y="31.46" width="3.1" height="3.1" fill="#fff2cc" stroke="none"/>
<rect x="48.52" y="31.46" width="3.1" height="3.1" fill="#fff2cc" stroke="none"/>
<rect x="54.34" y="31.46" width="3.1" height="3.1" fill="#fff2cc" stroke="none"/>
<rect x="60.16" y="31.46" width="3.1" height="3.1" fill="#fff2cc" stroke="none"/>
<rect x="65.98" y="31.46" width="3.1" height="3.1" fill="#fff2cc" stroke="none"/>
<rect x="42.70" y="37.28" width="3.1" height="3.1" fill="#fff2cc" stroke="none"/>
<rect x="48.52" y="37.28" width="3.1" height="3.1" fill="#fff2cc" stroke="none"/>
<rect x="54.34" y="37.28" width="3.1" height="3.1" fill="#fff2cc" stroke="none"/>
<rect x="60.16" y="37.28" width="3.1" height="3.1" fill="#fff2cc" stroke="none"/>
<rect x="65.98" y="37.28" width="3.1" height="3.1" fill="#fff2cc" stroke="none"/>
<rect x="7.2" y="47.8" width="28.4" height="28.4" rx="0.8"/>
<path d="M9.6,50.2 V73.8 H33.2" stroke-width="0.8"/>
<path d="M12.6,53.60 H19.2 M24,53.60 H31" stroke-width="2.0" stroke-linecap="round"/>
<path d="M12.6,59.55 H19.2 M24,59.55 H31" stroke-width="2.0" stroke-linecap="round"/>
<path d="M12.6,65.50 H19.2 M24,65.50 H31" stroke-width="2.0" stroke-linecap="round"/>
<path d="M12.6,71.45 H19.2 M24,71.45 H31" stroke-width="2.0" stroke-linecap="round"/>
<rect x="41.7" y="47.8" width="28.4" height="28.4" rx="0.8"/>
<path d="M67.6,51 V59.5 M67.6,65 V73.8" stroke-width="0.8"/>
<path d="M55.80,62.40 L55.80,72.40 M55.80,68.40 L58.56,70.71 M55.80,68.40 L53.04,70.71 M55.80,62.40 L47.14,67.40 M50.60,65.40 L49.98,68.95 M50.60,65.40 L47.22,64.17 M55.80,62.40 L47.14,57.40 M50.60,59.40 L47.22,60.63 M50.60,59.40 L49.98,55.85 M55.80,62.40 L55.80,52.40 M55.80,56.40 L53.04,54.09 M55.80,56.40 L58.56,54.09 M55.80,62.40 L64.46,57.40 M61.00,59.40 L61.62,55.85 M61.00,59.40 L64.38,60.63 M55.80,62.40 L64.46,67.40 M61.00,65.40 L64.38,64.17 M61.00,65.40 L61.62,68.95 " stroke-width="2.0" stroke-linecap="round"/>
</g>
<g transform="translate(671.2,272.3) scale(0.502)" fill="none" stroke="#000" stroke-linecap="round" stroke-linejoin="round" stroke-width="2.4" stroke-linecap="butt" stroke-linejoin="miter">
<path d="M6.2,1 H36.6" stroke-linecap="round"/>
<path d="M9.4,1.5 V6.5" stroke-width="2.0"/>
<path d="M14.2,1.5 V6.5" stroke-width="2.0"/>
<path d="M19.0,1.5 V6.5" stroke-width="2.0"/>
<path d="M23.799999999999997,1.5 V6.5" stroke-width="2.0"/>
<path d="M28.6,1.5 V6.5" stroke-width="2.0"/>
<path d="M33.4,1.5 V6.5" stroke-width="2.0"/>
<path d="M40.7,1 H71.1" stroke-linecap="round"/>
<path d="M43.900000000000006,1.5 V6.5" stroke-width="2.0"/>
<path d="M48.7,1.5 V6.5" stroke-width="2.0"/>
<path d="M53.50000000000001,1.5 V6.5" stroke-width="2.0"/>
<path d="M58.300000000000004,1.5 V6.5" stroke-width="2.0"/>
<path d="M63.10000000000001,1.5 V6.5" stroke-width="2.0"/>
<path d="M67.9,1.5 V6.5" stroke-width="2.0"/>
<path d="M1.05,18 V7.55 H75.85 V81.2 H16 M12,81.2 H1.05 V22"/>
<path d="M3.5,81.2 V85.8 H73.4 V81.2"/>
<rect x="6.2" y="12" width="30.4" height="30.5" rx="1" fill="#000" stroke="none"/>
<rect x="8.20" y="14.00" width="3.1" height="3.1" fill="#fff2cc" stroke="none"/>
<rect x="14.02" y="14.00" width="3.1" height="3.1" fill="#fff2cc" stroke="none"/>
<rect x="19.84" y="14.00" width="3.1" height="3.1" fill="#fff2cc" stroke="none"/>
<rect x="25.66" y="14.00" width="3.1" height="3.1" fill="#fff2cc" stroke="none"/>
<rect x="31.48" y="14.00" width="3.1" height="3.1" fill="#fff2cc" stroke="none"/>
<rect x="8.20" y="19.82" width="3.1" height="3.1" fill="#fff2cc" stroke="none"/>
<rect x="14.02" y="19.82" width="3.1" height="3.1" fill="#fff2cc" stroke="none"/>
<rect x="19.84" y="19.82" width="3.1" height="3.1" fill="#fff2cc" stroke="none"/>
<rect x="25.66" y="19.82" width="3.1" height="3.1" fill="#fff2cc" stroke="none"/>
<rect x="31.48" y="19.82" width="3.1" height="3.1" fill="#fff2cc" stroke="none"/>
<rect x="8.20" y="25.64" width="3.1" height="3.1" fill="#fff2cc" stroke="none"/>
<rect x="14.02" y="25.64" width="3.1" height="3.1" fill="#fff2cc" stroke="none"/>
<rect x="19.84" y="25.64" width="3.1" height="3.1" fill="#fff2cc" stroke="none"/>
<rect x="25.66" y="25.64" width="3.1" height="3.1" fill="#fff2cc" stroke="none"/>
<rect x="31.48" y="25.64" width="3.1" height="3.1" fill="#fff2cc" stroke="none"/>
<rect x="8.20" y="31.46" width="3.1" height="3.1" fill="#fff2cc" stroke="none"/>
<rect x="14.02" y="31.46" width="3.1" height="3.1" fill="#fff2cc" stroke="none"/>
<rect x="19.84" y="31.46" width="3.1" height="3.1" fill="#fff2cc" stroke="none"/>
<rect x="25.66" y="31.46" width="3.1" height="3.1" fill="#fff2cc" stroke="none"/>
<rect x="31.48" y="31.46" width="3.1" height="3.1" fill="#fff2cc" stroke="none"/>
<rect x="8.20" y="37.28" width="3.1" height="3.1" fill="#fff2cc" stroke="none"/>
<rect x="14.02" y="37.28" width="3.1" height="3.1" fill="#fff2cc" stroke="none"/>
<rect x="19.84" y="37.28" width="3.1" height="3.1" fill="#fff2cc" stroke="none"/>
<rect x="25.66" y="37.28" width="3.1" height="3.1" fill="#fff2cc" stroke="none"/>
<rect x="31.48" y="37.28" width="3.1" height="3.1" fill="#fff2cc" stroke="none"/>
<rect x="40.7" y="12" width="30.4" height="30.5" rx="1" fill="#000" stroke="none"/>
<rect x="42.70" y="14.00" width="3.1" height="3.1" fill="#fff2cc" stroke="none"/>
<rect x="48.52" y="14.00" width="3.1" height="3.1" fill="#fff2cc" stroke="none"/>
<rect x="54.34" y="14.00" width="3.1" height="3.1" fill="#fff2cc" stroke="none"/>
<rect x="60.16" y="14.00" width="3.1" height="3.1" fill="#fff2cc" stroke="none"/>
<rect x="65.98" y="14.00" width="3.1" height="3.1" fill="#fff2cc" stroke="none"/>
<rect x="42.70" y="19.82" width="3.1" height="3.1" fill="#fff2cc" stroke="none"/>
<rect x="48.52" y="19.82" width="3.1" height="3.1" fill="#fff2cc" stroke="none"/>
<rect x="54.34" y="19.82" width="3.1" height="3.1" fill="#fff2cc" stroke="none"/>
<rect x="60.16" y="19.82" width="3.1" height="3.1" fill="#fff2cc" stroke="none"/>
<rect x="65.98" y="19.82" width="3.1" height="3.1" fill="#fff2cc" stroke="none"/>
<rect x="42.70" y="25.64" width="3.1" height="3.1" fill="#fff2cc" stroke="none"/>
<rect x="48.52" y="25.64" width="3.1" height="3.1" fill="#fff2cc" stroke="none"/>
<rect x="54.34" y="25.64" width="3.1" height="3.1" fill="#fff2cc" stroke="none"/>
<rect x="60.16" y="25.64" width="3.1" height="3.1" fill="#fff2cc" stroke="none"/>
<rect x="65.98" y="25.64" width="3.1" height="3.1" fill="#fff2cc" stroke="none"/>
<rect x="42.70" y="31.46" width="3.1" height="3.1" fill="#fff2cc" stroke="none"/>
<rect x="48.52" y="31.46" width="3.1" height="3.1" fill="#fff2cc" stroke="none"/>
<rect x="54.34" y="31.46" width="3.1" height="3.1" fill="#fff2cc" stroke="none"/>
<rect x="60.16" y="31.46" width="3.1" height="3.1" fill="#fff2cc" stroke="none"/>
<rect x="65.98" y="31.46" width="3.1" height="3.1" fill="#fff2cc" stroke="none"/>
<rect x="42.70" y="37.28" width="3.1" height="3.1" fill="#fff2cc" stroke="none"/>
<rect x="48.52" y="37.28" width="3.1" height="3.1" fill="#fff2cc" stroke="none"/>
<rect x="54.34" y="37.28" width="3.1" height="3.1" fill="#fff2cc" stroke="none"/>
<rect x="60.16" y="37.28" width="3.1" height="3.1" fill="#fff2cc" stroke="none"/>
<rect x="65.98" y="37.28" width="3.1" height="3.1" fill="#fff2cc" stroke="none"/>
<rect x="7.2" y="47.8" width="28.4" height="28.4" rx="0.8"/>
<path d="M9.6,50.2 V73.8 H33.2" stroke-width="0.8"/>
<path d="M12.6,53.60 H19.2 M24,53.60 H31" stroke-width="2.0" stroke-linecap="round"/>
<path d="M12.6,59.55 H19.2 M24,59.55 H31" stroke-width="2.0" stroke-linecap="round"/>
<path d="M12.6,65.50 H19.2 M24,65.50 H31" stroke-width="2.0" stroke-linecap="round"/>
<path d="M12.6,71.45 H19.2 M24,71.45 H31" stroke-width="2.0" stroke-linecap="round"/>
<rect x="41.7" y="47.8" width="28.4" height="28.4" rx="0.8"/>
<path d="M67.6,51 V59.5 M67.6,65 V73.8" stroke-width="0.8"/>
<path d="M55.80,62.40 L55.80,72.40 M55.80,68.40 L58.56,70.71 M55.80,68.40 L53.04,70.71 M55.80,62.40 L47.14,67.40 M50.60,65.40 L49.98,68.95 M50.60,65.40 L47.22,64.17 M55.80,62.40 L47.14,57.40 M50.60,59.40 L47.22,60.63 M50.60,59.40 L49.98,55.85 M55.80,62.40 L55.80,52.40 M55.80,56.40 L53.04,54.09 M55.80,56.40 L58.56,54.09 M55.80,62.40 L64.46,57.40 M61.00,59.40 L61.62,55.85 M61.00,59.40 L64.38,60.63 M55.80,62.40 L64.46,67.40 M61.00,65.40 L64.38,64.17 M61.00,65.40 L61.62,68.95 " stroke-width="2.0" stroke-linecap="round"/>
</g>
<g transform="translate(721.6,272.3) scale(0.502)" fill="none" stroke="#000" stroke-linecap="round" stroke-linejoin="round" stroke-width="2.4" stroke-linecap="butt" stroke-linejoin="miter">
<path d="M6.2,1 H36.6" stroke-linecap="round"/>
<path d="M9.4,1.5 V6.5" stroke-width="2.0"/>
<path d="M14.2,1.5 V6.5" stroke-width="2.0"/>
<path d="M19.0,1.5 V6.5" stroke-width="2.0"/>
<path d="M23.799999999999997,1.5 V6.5" stroke-width="2.0"/>
<path d="M28.6,1.5 V6.5" stroke-width="2.0"/>
<path d="M33.4,1.5 V6.5" stroke-width="2.0"/>
<path d="M40.7,1 H71.1" stroke-linecap="round"/>
<path d="M43.900000000000006,1.5 V6.5" stroke-width="2.0"/>
<path d="M48.7,1.5 V6.5" stroke-width="2.0"/>
<path d="M53.50000000000001,1.5 V6.5" stroke-width="2.0"/>
<path d="M58.300000000000004,1.5 V6.5" stroke-width="2.0"/>
<path d="M63.10000000000001,1.5 V6.5" stroke-width="2.0"/>
<path d="M67.9,1.5 V6.5" stroke-width="2.0"/>
<path d="M1.05,18 V7.55 H75.85 V81.2 H16 M12,81.2 H1.05 V22"/>
<path d="M3.5,81.2 V85.8 H73.4 V81.2"/>
<rect x="6.2" y="12" width="30.4" height="30.5" rx="1" fill="#000" stroke="none"/>
<rect x="8.20" y="14.00" width="3.1" height="3.1" fill="#fff2cc" stroke="none"/>
<rect x="14.02" y="14.00" width="3.1" height="3.1" fill="#fff2cc" stroke="none"/>
<rect x="19.84" y="14.00" width="3.1" height="3.1" fill="#fff2cc" stroke="none"/>
<rect x="25.66" y="14.00" width="3.1" height="3.1" fill="#fff2cc" stroke="none"/>
<rect x="31.48" y="14.00" width="3.1" height="3.1" fill="#fff2cc" stroke="none"/>
<rect x="8.20" y="19.82" width="3.1" height="3.1" fill="#fff2cc" stroke="none"/>
<rect x="14.02" y="19.82" width="3.1" height="3.1" fill="#fff2cc" stroke="none"/>
<rect x="19.84" y="19.82" width="3.1" height="3.1" fill="#fff2cc" stroke="none"/>
<rect x="25.66" y="19.82" width="3.1" height="3.1" fill="#fff2cc" stroke="none"/>
<rect x="31.48" y="19.82" width="3.1" height="3.1" fill="#fff2cc" stroke="none"/>
<rect x="8.20" y="25.64" width="3.1" height="3.1" fill="#fff2cc" stroke="none"/>
<rect x="14.02" y="25.64" width="3.1" height="3.1" fill="#fff2cc" stroke="none"/>
<rect x="19.84" y="25.64" width="3.1" height="3.1" fill="#fff2cc" stroke="none"/>
<rect x="25.66" y="25.64" width="3.1" height="3.1" fill="#fff2cc" stroke="none"/>
<rect x="31.48" y="25.64" width="3.1" height="3.1" fill="#fff2cc" stroke="none"/>
<rect x="8.20" y="31.46" width="3.1" height="3.1" fill="#fff2cc" stroke="none"/>
<rect x="14.02" y="31.46" width="3.1" height="3.1" fill="#fff2cc" stroke="none"/>
<rect x="19.84" y="31.46" width="3.1" height="3.1" fill="#fff2cc" stroke="none"/>
<rect x="25.66" y="31.46" width="3.1" height="3.1" fill="#fff2cc" stroke="none"/>
<rect x="31.48" y="31.46" width="3.1" height="3.1" fill="#fff2cc" stroke="none"/>
<rect x="8.20" y="37.28" width="3.1" height="3.1" fill="#fff2cc" stroke="none"/>
<rect x="14.02" y="37.28" width="3.1" height="3.1" fill="#fff2cc" stroke="none"/>
<rect x="19.84" y="37.28" width="3.1" height="3.1" fill="#fff2cc" stroke="none"/>
<rect x="25.66" y="37.28" width="3.1" height="3.1" fill="#fff2cc" stroke="none"/>
<rect x="31.48" y="37.28" width="3.1" height="3.1" fill="#fff2cc" stroke="none"/>
<rect x="40.7" y="12" width="30.4" height="30.5" rx="1" fill="#000" stroke="none"/>
<rect x="42.70" y="14.00" width="3.1" height="3.1" fill="#fff2cc" stroke="none"/>
<rect x="48.52" y="14.00" width="3.1" height="3.1" fill="#fff2cc" stroke="none"/>
<rect x="54.34" y="14.00" width="3.1" height="3.1" fill="#fff2cc" stroke="none"/>
<rect x="60.16" y="14.00" width="3.1" height="3.1" fill="#fff2cc" stroke="none"/>
<rect x="65.98" y="14.00" width="3.1" height="3.1" fill="#fff2cc" stroke="none"/>
<rect x="42.70" y="19.82" width="3.1" height="3.1" fill="#fff2cc" stroke="none"/>
<rect x="48.52" y="19.82" width="3.1" height="3.1" fill="#fff2cc" stroke="none"/>
<rect x="54.34" y="19.82" width="3.1" height="3.1" fill="#fff2cc" stroke="none"/>
<rect x="60.16" y="19.82" width="3.1" height="3.1" fill="#fff2cc" stroke="none"/>
<rect x="65.98" y="19.82" width="3.1" height="3.1" fill="#fff2cc" stroke="none"/>
<rect x="42.70" y="25.64" width="3.1" height="3.1" fill="#fff2cc" stroke="none"/>
<rect x="48.52" y="25.64" width="3.1" height="3.1" fill="#fff2cc" stroke="none"/>
<rect x="54.34" y="25.64" width="3.1" height="3.1" fill="#fff2cc" stroke="none"/>
<rect x="60.16" y="25.64" width="3.1" height="3.1" fill="#fff2cc" stroke="none"/>
<rect x="65.98" y="25.64" width="3.1" height="3.1" fill="#fff2cc" stroke="none"/>
<rect x="42.70" y="31.46" width="3.1" height="3.1" fill="#fff2cc" stroke="none"/>
<rect x="48.52" y="31.46" width="3.1" height="3.1" fill="#fff2cc" stroke="none"/>
<rect x="54.34" y="31.46" width="3.1" height="3.1" fill="#fff2cc" stroke="none"/>
<rect x="60.16" y="31.46" width="3.1" height="3.1" fill="#fff2cc" stroke="none"/>
<rect x="65.98" y="31.46" width="3.1" height="3.1" fill="#fff2cc" stroke="none"/>
<rect x="42.70" y="37.28" width="3.1" height="3.1" fill="#fff2cc" stroke="none"/>
<rect x="48.52" y="37.28" width="3.1" height="3.1" fill="#fff2cc" stroke="none"/>
<rect x="54.34" y="37.28" width="3.1" height="3.1" fill="#fff2cc" stroke="none"/>
<rect x="60.16" y="37.28" width="3.1" height="3.1" fill="#fff2cc" stroke="none"/>
<rect x="65.98" y="37.28" width="3.1" height="3.1" fill="#fff2cc" stroke="none"/>
<rect x="7.2" y="47.8" width="28.4" height="28.4" rx="0.8"/>
<path d="M9.6,50.2 V73.8 H33.2" stroke-width="0.8"/>
<path d="M12.6,53.60 H19.2 M24,53.60 H31" stroke-width="2.0" stroke-linecap="round"/>
<path d="M12.6,59.55 H19.2 M24,59.55 H31" stroke-width="2.0" stroke-linecap="round"/>
<path d="M12.6,65.50 H19.2 M24,65.50 H31" stroke-width="2.0" stroke-linecap="round"/>
<path d="M12.6,71.45 H19.2 M24,71.45 H31" stroke-width="2.0" stroke-linecap="round"/>
<rect x="41.7" y="47.8" width="28.4" height="28.4" rx="0.8"/>
<path d="M67.6,51 V59.5 M67.6,65 V73.8" stroke-width="0.8"/>
<path d="M55.80,62.40 L55.80,72.40 M55.80,68.40 L58.56,70.71 M55.80,68.40 L53.04,70.71 M55.80,62.40 L47.14,67.40 M50.60,65.40 L49.98,68.95 M50.60,65.40 L47.22,64.17 M55.80,62.40 L47.14,57.40 M50.60,59.40 L47.22,60.63 M50.60,59.40 L49.98,55.85 M55.80,62.40 L55.80,52.40 M55.80,56.40 L53.04,54.09 M55.80,56.40 L58.56,54.09 M55.80,62.40 L64.46,57.40 M61.00,59.40 L61.62,55.85 M61.00,59.40 L64.38,60.63 M55.80,62.40 L64.46,67.40 M61.00,65.40 L64.38,64.17 M61.00,65.40 L61.62,68.95 " stroke-width="2.0" stroke-linecap="round"/>
</g>
<circle cx="506" cy="268.1" r="21.9" fill="#cfe2f3"/>
<rect x="490.8" y="252.9" width="31.4" height="29.8" fill="url(#mesh)"/>
<circle cx="644" cy="268.1" r="21.9" fill="#cfe2f3"/>
<rect x="628.4" y="252.9" width="31.4" height="29.8" fill="url(#mesh)" transform="translate(0.4,0)"/>
<g clip-path="url(#c3)"><circle cx="801" cy="272" r="21.9" fill="#cfe2f3"/></g><g clip-path="url(#c3b)"><rect x="784" y="258" width="33" height="29.8" fill="url(#mesh3)"/></g>
<g fill="none" stroke="#000" stroke-linecap="round" stroke-linejoin="round">
<path d="M530.80,151.60 L540.10,151.60 M536.57,151.60 L538.72,149.04 M536.57,151.60 L538.72,154.16 M530.80,151.60 L535.45,159.65 M533.68,156.59 L536.98,157.17 M533.68,156.59 L532.54,159.74 M530.80,151.60 L526.15,159.65 M527.92,156.59 L529.06,159.74 M527.92,156.59 L524.62,157.17 M530.80,151.60 L521.50,151.60 M525.03,151.60 L522.88,154.16 M525.03,151.60 L522.88,149.04 M530.80,151.60 L526.15,143.55 M527.92,146.61 L524.62,146.03 M527.92,146.61 L529.06,143.46 M530.80,151.60 L535.45,143.55 M533.68,146.61 L532.54,143.46 M533.68,146.61 L536.98,146.03 " stroke-width="1.45"/>
<circle cx="518.3" cy="163.3" r="3.9" stroke-width="1.15"/>
<path d="M524.90,163.30 L526.50,163.30 M522.97,167.97 L524.10,169.10 M518.30,169.90 L518.30,171.50 M513.63,167.97 L512.50,169.10 M511.70,163.30 L510.10,163.30 M513.63,158.63 L512.50,157.50 M518.30,156.70 L518.30,155.10 M522.97,158.63 L524.10,157.50 " stroke-width="1.15"/>
<path d="M525.2,178 H537.2 Q540.2,178 540.2,174.8 Q540.2,171.6 536.6,171.3 Q536.4,166.4 531.4,166.3 Q527.6,166.3 526.6,170.2 Q522.1,170.4 522.1,174.6 Q522.1,178 525.2,178 Z M526.6,170.2 Q528.6,170.4 529.2,172.6" stroke-width="1.3"/>
<path d="M526,180.6 L524,183.6 M530.6,180.6 L528.4,183.8 M535.6,180.6 L533.2,183.8" stroke-width="1.2"/>
<path d="M533.6,161.6 H548 Q551,161.6 551,159.5 Q551,157.7 548.6,158.1 M538.4,165.5 H546 Q548.2,165.5 548.2,167.6 Q548.2,169.4 545.6,169.1" stroke-width="1.2"/>
</g>
<g transform="translate(435.1,350.6) scale(1)" fill="none" stroke="#000" stroke-linecap="round" stroke-linejoin="round" stroke-width="1.25" stroke="#111">
<path d="M8.9,12.7 V10.2 Q8.9,0.6 18.6,0.6 Q28.3,0.6 28.3,10.2 V12.7"/>
<path d="M8.9,10.3 H28.3" stroke-width="1"/>
<path d="M8.0,12.8 H29.2" stroke-linecap="round"/>
<path d="M16.6,1 Q17.4,4 17.4,6.6 M20.6,1 Q19.8,4 19.8,6.6 M17.4,10.2 V8.6 Q18.6,7 19.8,8.6 V10.2 M11,7 Q13.6,7.4 15.4,5.6 M26.2,7 Q23.6,7.4 21.8,5.6" stroke-width="0.9"/>
<path d="M10,13.3 V19 Q10.4,26.4 18.6,26.6 Q26.8,26.4 27.2,19 V13.3"/>
<path d="M10,14.4 Q6.8,14 7,16.6 Q7.4,19 10,18.8 M27.2,14.4 Q30.4,14 30.2,16.6 Q29.8,19 27.2,18.8"/>
<path d="M13.1,28.9 L18.6,33.7 L24.1,28.9 M15,25.6 L13.1,28.9 M22.2,25.6 L24.1,28.9"/>
<path d="M0.6,39 V33 Q0.6,28.7 5.4,28.7 H31.8 Q36.3,28.7 36.3,33 V43.2 H4.2 M0.6,41.6 V43.2 H2.4"/>
<path d="M6.9,28.9 V43 M14.6,30.4 V43 M22.9,30.4 V43 M30.4,28.9 V43 M6.9,35.2 H14.6 M6.9,37.9 H14.6 M22.9,36.4 H30.4 M24.6,36.4 V38.2" stroke-width="1"/>
</g>
<g transform="translate(555.3,350.6) scale(1)" fill="none" stroke="#000" stroke-linecap="round" stroke-linejoin="round" stroke-width="1.25" stroke="#111">
<path d="M8.9,12.7 V10.2 Q8.9,0.6 18.6,0.6 Q28.3,0.6 28.3,10.2 V12.7"/>
<path d="M8.9,10.3 H28.3" stroke-width="1"/>
<path d="M8.0,12.8 H29.2" stroke-linecap="round"/>
<path d="M16.6,1 Q17.4,4 17.4,6.6 M20.6,1 Q19.8,4 19.8,6.6 M17.4,10.2 V8.6 Q18.6,7 19.8,8.6 V10.2 M11,7 Q13.6,7.4 15.4,5.6 M26.2,7 Q23.6,7.4 21.8,5.6" stroke-width="0.9"/>
<path d="M10,13.3 V19 Q10.4,26.4 18.6,26.6 Q26.8,26.4 27.2,19 V13.3"/>
<path d="M10,14.4 Q6.8,14 7,16.6 Q7.4,19 10,18.8 M27.2,14.4 Q30.4,14 30.2,16.6 Q29.8,19 27.2,18.8"/>
<path d="M13.1,28.9 L18.6,33.7 L24.1,28.9 M15,25.6 L13.1,28.9 M22.2,25.6 L24.1,28.9"/>
<path d="M0.6,39 V33 Q0.6,28.7 5.4,28.7 H31.8 Q36.3,28.7 36.3,33 V43.2 H4.2 M0.6,41.6 V43.2 H2.4"/>
<path d="M6.9,28.9 V43 M14.6,30.4 V43 M22.9,30.4 V43 M30.4,28.9 V43 M6.9,35.2 H14.6 M6.9,37.9 H14.6 M22.9,36.4 H30.4 M24.6,36.4 V38.2" stroke-width="1"/>
</g>
<g transform="translate(694.8,350.6) scale(1)" fill="none" stroke="#000" stroke-linecap="round" stroke-linejoin="round" stroke-width="1.25" stroke="#111">
<path d="M8.9,12.7 V10.2 Q8.9,0.6 18.6,0.6 Q28.3,0.6 28.3,10.2 V12.7"/>
<path d="M8.9,10.3 H28.3" stroke-width="1"/>
<path d="M8.0,12.8 H29.2" stroke-linecap="round"/>
<path d="M16.6,1 Q17.4,4 17.4,6.6 M20.6,1 Q19.8,4 19.8,6.6 M17.4,10.2 V8.6 Q18.6,7 19.8,8.6 V10.2 M11,7 Q13.6,7.4 15.4,5.6 M26.2,7 Q23.6,7.4 21.8,5.6" stroke-width="0.9"/>
<path d="M10,13.3 V19 Q10.4,26.4 18.6,26.6 Q26.8,26.4 27.2,19 V13.3"/>
<path d="M10,14.4 Q6.8,14 7,16.6 Q7.4,19 10,18.8 M27.2,14.4 Q30.4,14 30.2,16.6 Q29.8,19 27.2,18.8"/>
<path d="M13.1,28.9 L18.6,33.7 L24.1,28.9 M15,25.6 L13.1,28.9 M22.2,25.6 L24.1,28.9"/>
<path d="M0.6,39 V33 Q0.6,28.7 5.4,28.7 H31.8 Q36.3,28.7 36.3,33 V43.2 H4.2 M0.6,41.6 V43.2 H2.4"/>
<path d="M6.9,28.9 V43 M14.6,30.4 V43 M22.9,30.4 V43 M30.4,28.9 V43 M6.9,35.2 H14.6 M6.9,37.9 H14.6 M22.9,36.4 H30.4 M24.6,36.4 V38.2" stroke-width="1"/>
</g>
<rect x="830.1" y="250.4" width="19.6" height="43.1" fill="#f3f3f3" stroke="#000" stroke-width="1.1"/>
<path d="M830.6,257.9 H849.6 M830.6,286.2 H849.6" stroke="#000" stroke-width="0.9" fill="none"/>
<path d="M834.0,253.20000000000002 H846.2 M834.0,290.5 H846.2" stroke="#000" stroke-width="0.9" fill="none"/>
<path d="M831.8000000000001,253.20000000000002 h1 M847.2,253.20000000000002 h1 M831.8000000000001,290.5 h1 M847.2,290.5 h1" stroke="#000" stroke-width="0.8" fill="none"/>
<rect x="831.3000000000001" y="258.70" width="17.2" height="4.4" fill="#f3f3f3" stroke="#000" stroke-width="0.8"/>
<path d="M833.6,260.85 H842.6" stroke="#000" stroke-width="1.1" stroke-dasharray="1.3,1.2" fill="none"/>
<path d="M843.2,260.85 H846.8000000000001" stroke="#000" stroke-width="1.3" fill="none"/>
<rect x="831.3000000000001" y="264.26" width="17.2" height="4.4" fill="#f3f3f3" stroke="#000" stroke-width="0.8"/>
<path d="M833.6,266.41 H842.6" stroke="#000" stroke-width="1.1" stroke-dasharray="1.3,1.2" fill="none"/>
<path d="M843.2,266.41 H846.8000000000001" stroke="#000" stroke-width="1.3" fill="none"/>
<rect x="831.3000000000001" y="269.82" width="17.2" height="4.4" fill="#f3f3f3" stroke="#000" stroke-width="0.8"/>
<path d="M833.6,271.97 H842.6" stroke="#000" stroke-width="1.1" stroke-dasharray="1.3,1.2" fill="none"/>
<path d="M843.2,271.97 H846.8000000000001" stroke="#000" stroke-width="1.3" fill="none"/>
<rect x="831.3000000000001" y="275.38" width="17.2" height="4.4" fill="#f3f3f3" stroke="#000" stroke-width="0.8"/>
<path d="M833.6,277.53 H842.6" stroke="#000" stroke-width="1.1" stroke-dasharray="1.3,1.2" fill="none"/>
<path d="M843.2,277.53 H846.8000000000001" stroke="#000" stroke-width="1.3" fill="none"/>
<rect x="831.3000000000001" y="280.94" width="17.2" height="4.4" fill="#f3f3f3" stroke="#000" stroke-width="0.8"/>
<path d="M833.6,283.09 H842.6" stroke="#000" stroke-width="1.1" stroke-dasharray="1.3,1.2" fill="none"/>
<path d="M843.2,283.09 H846.8000000000001" stroke="#000" stroke-width="1.3" fill="none"/>
<rect x="853.6" y="250.4" width="19.6" height="43.1" fill="#f3f3f3" stroke="#000" stroke-width="1.1"/>
<path d="M854.1,257.9 H873.1 M854.1,286.2 H873.1" stroke="#000" stroke-width="0.9" fill="none"/>
<path d="M857.5,253.20000000000002 H869.7 M857.5,290.5 H869.7" stroke="#000" stroke-width="0.9" fill="none"/>
<path d="M855.3000000000001,253.20000000000002 h1 M870.7,253.20000000000002 h1 M855.3000000000001,290.5 h1 M870.7,290.5 h1" stroke="#000" stroke-width="0.8" fill="none"/>
<rect x="854.8000000000001" y="258.70" width="17.2" height="4.4" fill="#f3f3f3" stroke="#000" stroke-width="0.8"/>
<path d="M857.1,260.85 H866.1" stroke="#000" stroke-width="1.1" stroke-dasharray="1.3,1.2" fill="none"/>
<path d="M866.7,260.85 H870.3000000000001" stroke="#000" stroke-width="1.3" fill="none"/>
<rect x="854.8000000000001" y="264.26" width="17.2" height="4.4" fill="#f3f3f3" stroke="#000" stroke-width="0.8"/>
<path d="M857.1,266.41 H866.1" stroke="#000" stroke-width="1.1" stroke-dasharray="1.3,1.2" fill="none"/>
<path d="M866.7,266.41 H870.3000000000001" stroke="#000" stroke-width="1.3" fill="none"/>
<rect x="854.8000000000001" y="269.82" width="17.2" height="4.4" fill="#f3f3f3" stroke="#000" stroke-width="0.8"/>
<path d="M857.1,271.97 H866.1" stroke="#000" stroke-width="1.1" stroke-dasharray="1.3,1.2" fill="none"/>
<path d="M866.7,271.97 H870.3000000000001" stroke="#000" stroke-width="1.3" fill="none"/>
<rect x="854.8000000000001" y="275.38" width="17.2" height="4.4" fill="#f3f3f3" stroke="#000" stroke-width="0.8"/>
<path d="M857.1,277.53 H866.1" stroke="#000" stroke-width="1.1" stroke-dasharray="1.3,1.2" fill="none"/>
<path d="M866.7,277.53 H870.3000000000001" stroke="#000" stroke-width="1.3" fill="none"/>
<rect x="854.8000000000001" y="280.94" width="17.2" height="4.4" fill="#f3f3f3" stroke="#000" stroke-width="0.8"/>
<path d="M857.1,283.09 H866.1" stroke="#000" stroke-width="1.1" stroke-dasharray="1.3,1.2" fill="none"/>
<path d="M866.7,283.09 H870.3000000000001" stroke="#000" stroke-width="1.3" fill="none"/>
<g fill="#000">
<circle cx="890.1" cy="260" r="6.2"/><circle cx="930" cy="260" r="6.2"/>
<path d="M881.1,289.5 V280.3 Q881.1,270.3 891.1,270.3 H897 V293.8 H885.4 Q881.1,293.8 881.1,289.5 Z"/>
<path d="M938.9,289.5 V280.3 Q938.9,270.3 928.9,270.3 H923 V293.8 H934.6 Q938.9,293.8 938.9,289.5 Z"/>
<path d="M894.1,293.4 V284.3 Q894.1,269.3 910.2,269.3 Q926.3,269.3 926.3,284.3 V293.4 Q926.3,297.8 921.8,297.8 H898.6 Q894.1,297.8 894.1,293.4 Z" stroke="#d9d9d9" stroke-width="2"/>
<circle cx="909.9" cy="256.4" r="9.9"/>
</g>
<g fill="none" stroke="#000" stroke-linecap="round" stroke-linejoin="round">
<path d="M807.71,443.03 A19.6,19.6 0 1,1 788.30,420.70" stroke-width="1.2"/>
<path d="M785.10,418.00 L788.90,420.80 L785.10,423.40" stroke-width="1.3"/>
<path d="M791.37,420.94 A19.6,19.6 0 0,1 807.87,441.33" stroke-width="1.45" stroke-dasharray="0.1,2.35"/>
<rect x="779.7" y="427.6" width="17.4" height="2.9" rx="0.9" fill="#fff" stroke-width="1.25"/>
<rect x="779.7" y="451.2" width="17.4" height="2.9" rx="0.9" fill="#fff" stroke-width="1.25"/>
<path d="M781.3,430.6 Q781.5,434.4 786.9,439.1 Q787.6,440.3 786.9,441.5 Q781.5,446.2 781.3,451.1 M795.5,430.6 Q795.3,434.4 789.9,439.1 Q789.2,440.3 789.9,441.5 Q795.3,446.2 795.5,451.1 M782.6,435 H794.2" stroke-width="1.3"/>
<path d="M788.4,442.6 v0.1 M788.4,444.9 v0.1 M788.4,447.2 v0.1" stroke-width="1.4"/>
</g>
<g fill="none" stroke="#111" stroke-width="1.25" stroke-linejoin="round" stroke-linecap="round">
<path d="M469.34,489.24 L472.10,489.56 L472.10,493.04 L469.34,493.36 L468.06,497.29 L470.11,499.18 L468.06,502.00 L465.63,500.63 L462.29,503.06 L462.84,505.79 L459.52,506.87 L458.36,504.34 L454.24,504.34 L453.08,506.87 L449.76,505.79 L450.31,503.06 L446.97,500.63 L444.54,502.00 L442.49,499.18 L444.54,497.29 L443.26,493.36 L440.50,493.04 L440.50,489.56 L443.26,489.24 L444.54,485.31 L442.49,483.42 L444.54,480.60 L446.97,481.97 L450.31,479.54 L449.76,476.81 L453.08,475.73 L454.24,478.26 L458.36,478.26 L459.52,475.73 L462.84,476.81 L462.29,479.54 L465.63,481.97 L468.06,480.60 L470.11,483.42 L468.06,485.31 Z"/>
<circle cx="456.3" cy="491.3" r="10.6"/>
<g stroke-width="1.4"><rect x="449.7" y="491.7" width="3.0" height="3.6"/><rect x="455.0" y="489.2" width="3.2" height="6.1"/><rect x="460.8" y="486.8" width="3.2" height="8.5"/></g>
<path d="M438.13,483.96 A19.6,19.6 0 0,1 474.72,484.60"/>
<path d="M474.47,498.64 A19.6,19.6 0 0,1 437.88,498.00"/>
<path d="M472.32,484.56 L476.82,483.76 L475.72,488.76 Z"/>
<path d="M440.28,498.04 L435.78,498.84 L436.88,493.84 Z"/>
</g>
<g clip-path="url(#lc)"><rect x="776.4" y="11.1" width="41.3" height="24.2" fill="#2a2520"/><g filter="url(#bl)"><ellipse cx="812.5" cy="18.5" rx="5.5" ry="5.5" fill="#1c4a88"/><ellipse cx="806.5" cy="22" rx="2.5" ry="2" fill="#1d4478"/><ellipse cx="787.5" cy="13" rx="3.5" ry="2" fill="#1b3f70"/><ellipse cx="786.5" cy="22.5" rx="3" ry="2.5" fill="#1e4a80"/><ellipse cx="779.5" cy="31.5" rx="3" ry="3" fill="#22457a"/><ellipse cx="781" cy="26" rx="1.5" ry="1.5" fill="#254a7c"/><ellipse cx="815" cy="32" rx="2.5" ry="2.5" fill="#2a4672"/><ellipse cx="799" cy="12.3" rx="2" ry="1.2" fill="#1b3f70"/><ellipse cx="795.6" cy="18.8" rx="2.2" ry="4.2" fill="#f3cf94" transform="rotate(28 795.6 18.8)"/><ellipse cx="797.2" cy="16.3" rx="1.4" ry="1.6" fill="#fbe6b8"/><ellipse cx="800.6" cy="20.5" rx="2.2" ry="2.4" fill="#b98a62"/><ellipse cx="802.5" cy="25" rx="2.5" ry="2" fill="#6a4a38"/><ellipse cx="781.6" cy="16.6" rx="1.5" ry="2.6" fill="#c9ad86" transform="rotate(-15 781.6 16.6)"/><ellipse cx="791.4" cy="13.6" rx="1.0" ry="2.4" fill="#e0a055"/><ellipse cx="783.5" cy="24.5" rx="5.0" ry="1.7" fill="#a8623a" transform="rotate(38 783.5 24.5)"/><ellipse cx="788.5" cy="29.5" rx="4.5" ry="1.8" fill="#c07a45" transform="rotate(28 788.5 29.5)"/><ellipse cx="794.5" cy="32.5" rx="3.6" ry="2.2" fill="#9c5a34"/><ellipse cx="790" cy="33.5" rx="2.5" ry="1.5" fill="#b87848"/><ellipse cx="806.5" cy="13.2" rx="2.5" ry="1.6" fill="#8a4a2c"/><ellipse cx="812.5" cy="12.8" rx="2.2" ry="1.4" fill="#7a4630"/><ellipse cx="803" cy="14.5" rx="1.2" ry="1.2" fill="#a05a34"/><ellipse cx="816" cy="15.5" rx="1.2" ry="1.8" fill="#6a4a40"/><ellipse cx="812.8" cy="27.5" rx="2.8" ry="4.2" fill="#9a7c64" transform="rotate(10 812.8 27.5)"/><ellipse cx="815.5" cy="24.5" rx="1.5" ry="2" fill="#b08870"/><ellipse cx="808" cy="31" rx="2.6" ry="2.2" fill="#7a4a30"/><ellipse cx="804" cy="33" rx="2.2" ry="1.6" fill="#8a5230"/><ellipse cx="778.6" cy="21" rx="1.2" ry="2.5" fill="#5a4030"/><ellipse cx="799" cy="30" rx="2" ry="2" fill="#1a1614"/><ellipse cx="806" cy="27" rx="1.6" ry="1.6" fill="#16120f"/></g></g>
<text x="12.9" y="32.2" font-size="22" font-weight="normal" font-style="normal" fill="#000" stroke="#000" stroke-width="0.85" stroke-linejoin="round" textLength="130.45" lengthAdjust="spacingAndGlyphs">Optimization</text>
<text x="153.36" y="32.2" font-size="22" font-weight="normal" font-style="normal" fill="#000" stroke="#000" stroke-width="0.85" stroke-linejoin="round" textLength="18.15" lengthAdjust="spacingAndGlyphs">in</text>
<text x="180.53" y="32.2" font-size="22" font-weight="normal" font-style="normal" fill="#000" stroke="#000" stroke-width="0.85" stroke-linejoin="round" textLength="34.43" lengthAdjust="spacingAndGlyphs">the</text>
<text x="223.56" y="32.2" font-size="22" font-weight="normal" font-style="normal" fill="#000" stroke="#000" stroke-width="0.85" stroke-linejoin="round" textLength="45.0" lengthAdjust="spacingAndGlyphs">Real</text>
<text x="857.02" y="21.7" font-size="11" font-weight="bold" font-style="normal" fill="#1414ff" textLength="101.8" lengthAdjust="spacingAndGlyphs">http://eeumee.net</text>
<text x="827.66" y="34.7" font-size="11" font-weight="bold" font-style="normal" fill="#1414ff" textLength="131.45" lengthAdjust="spacingAndGlyphs">lechuck.park@gmail.com</text>
<text x="585.85" y="159.7" font-size="12" font-weight="bold" font-style="italic" fill="#000" textLength="51.36" lengthAdjust="spacingAndGlyphs">External</text>
<text x="576.02" y="174.5" font-size="12" font-weight="bold" font-style="italic" fill="#000" textLength="71.02" lengthAdjust="spacingAndGlyphs">environment</text>
<text x="857.2" y="179.9" font-size="12" font-weight="bold" font-style="italic" fill="#000" textLength="55.14" lengthAdjust="spacingAndGlyphs">Customer</text>
<text x="845.9" y="194.4" font-size="12" font-weight="bold" font-style="italic" fill="#000" textLength="79.92" lengthAdjust="spacingAndGlyphs">Requirements</text>
<text x="501.09" y="380.8" font-size="12" font-weight="bold" font-style="italic" fill="#000" textLength="42.91" lengthAdjust="spacingAndGlyphs">Domain</text>
<text x="618.07" y="380.8" font-size="12" font-weight="bold" font-style="italic" fill="#000" textLength="47.29" lengthAdjust="spacingAndGlyphs">Experts</text>
<text x="279.62" y="397.6" font-size="10.8" font-weight="bold" font-style="italic" fill="#bababa" textLength="31.44" lengthAdjust="spacingAndGlyphs">Make</text>
<text x="316.09" y="397.6" font-size="10.8" font-weight="bold" font-style="italic" fill="#bababa" textLength="31.17" lengthAdjust="spacingAndGlyphs">More</text>
<text x="273.73" y="412.5" font-size="10.8" font-weight="bold" font-style="italic" fill="#bababa" textLength="78.42" lengthAdjust="spacingAndGlyphs">requirements</text>
<text x="276.6" y="427.4" font-size="10.8" font-weight="bold" font-style="italic" fill="#bababa" textLength="19.52" lengthAdjust="spacingAndGlyphs">for</text>
<text x="301.35" y="427.4" font-size="10.8" font-weight="bold" font-style="italic" fill="#bababa" textLength="19.15" lengthAdjust="spacingAndGlyphs">the</text>
<text x="325.92" y="427.4" font-size="10.8" font-weight="bold" font-style="italic" fill="#bababa" textLength="24.57" lengthAdjust="spacingAndGlyphs">real</text>
<text x="277.19" y="441.9" font-size="10.8" font-weight="bold" font-style="italic" fill="#bababa" textLength="73.22" lengthAdjust="spacingAndGlyphs">optimization</text>
<text x="577.62" y="447.4" font-size="22" font-weight="bold" font-style="italic" fill="#000" textLength="49.29" lengthAdjust="spacingAndGlyphs">Long</text>
<text x="633.79" y="447.4" font-size="22" font-weight="bold" font-style="italic" fill="#000" textLength="51.65" lengthAdjust="spacingAndGlyphs">Term</text>
<text x="691.47" y="447.4" font-size="22" font-weight="bold" font-style="italic" fill="#000" textLength="65.84" lengthAdjust="spacingAndGlyphs">Works</text>
<text x="510.47" y="492.8" font-size="24.5" font-weight="normal" font-style="italic" fill="#000" stroke="#000" stroke-width="0.95" stroke-linejoin="round" textLength="52.37" lengthAdjust="spacingAndGlyphs">REAL</text>
<text x="574.91" y="492.8" font-size="24.5" font-weight="normal" font-style="italic" fill="#000" stroke="#000" stroke-width="0.95" stroke-linejoin="round" textLength="65.49" lengthAdjust="spacingAndGlyphs">FIELD</text>
<text x="650.37" y="492.8" font-size="24.5" font-weight="normal" font-style="italic" fill="#000" stroke="#000" stroke-width="0.95" stroke-linejoin="round" textLength="178.65" lengthAdjust="spacingAndGlyphs">OPTIMIZATION</text>
<text x="520.59" y="509.8" font-size="12.2" font-weight="normal" font-style="italic" fill="#000" stroke="#000" stroke-width="0.55" stroke-linejoin="round" textLength="47.35" lengthAdjust="spacingAndGlyphs">#REAL,</text>
<text x="573.06" y="509.8" font-size="12.2" font-weight="normal" font-style="italic" fill="#000" stroke="#000" stroke-width="0.55" stroke-linejoin="round" textLength="41.37" lengthAdjust="spacingAndGlyphs">#TCO,</text>
<text x="621.0" y="509.8" font-size="12.2" font-weight="normal" font-style="italic" fill="#000" stroke="#000" stroke-width="0.55" stroke-linejoin="round" textLength="113.13" lengthAdjust="spacingAndGlyphs">#ENVIRONMENT,</text>
<text x="740.25" y="509.8" font-size="12.2" font-weight="normal" font-style="italic" fill="#000" stroke="#000" stroke-width="0.55" stroke-linejoin="round" textLength="78.26" lengthAdjust="spacingAndGlyphs">#LONGTIME</text>
<text x="145.74" y="84.0" font-size="12" font-weight="bold" font-style="italic" fill="#000" textLength="80.88" lengthAdjust="spacingAndGlyphs">Manufacturer</text>
<text x="173.79" y="155.3" font-size="12" font-weight="bold" font-style="italic" fill="#000" textLength="24.95" lengthAdjust="spacingAndGlyphs">Self</text>
<text x="148.92" y="170.2" font-size="12" font-weight="bold" font-style="italic" fill="#000" textLength="75.64" lengthAdjust="spacingAndGlyphs">Optimization</text>
<text x="145.74" y="232.6" font-size="12" font-weight="bold" font-style="italic" fill="#000" textLength="80.88" lengthAdjust="spacingAndGlyphs">Manufacturer</text>
<text x="173.79" y="303.9" font-size="12" font-weight="bold" font-style="italic" fill="#000" textLength="24.95" lengthAdjust="spacingAndGlyphs">Self</text>
<text x="148.92" y="318.79999999999995" font-size="12" font-weight="bold" font-style="italic" fill="#000" textLength="75.64" lengthAdjust="spacingAndGlyphs">Optimization</text>
<text x="145.74" y="381.4" font-size="12" font-weight="bold" font-style="italic" fill="#000" textLength="80.88" lengthAdjust="spacingAndGlyphs">Manufacturer</text>
<text x="173.79" y="452.7" font-size="12" font-weight="bold" font-style="italic" fill="#000" textLength="24.95" lengthAdjust="spacingAndGlyphs">Self</text>
<text x="148.92" y="467.59999999999997" font-size="12" font-weight="bold" font-style="italic" fill="#000" textLength="75.64" lengthAdjust="spacingAndGlyphs">Optimization</text>
</svg>
</body></html>
